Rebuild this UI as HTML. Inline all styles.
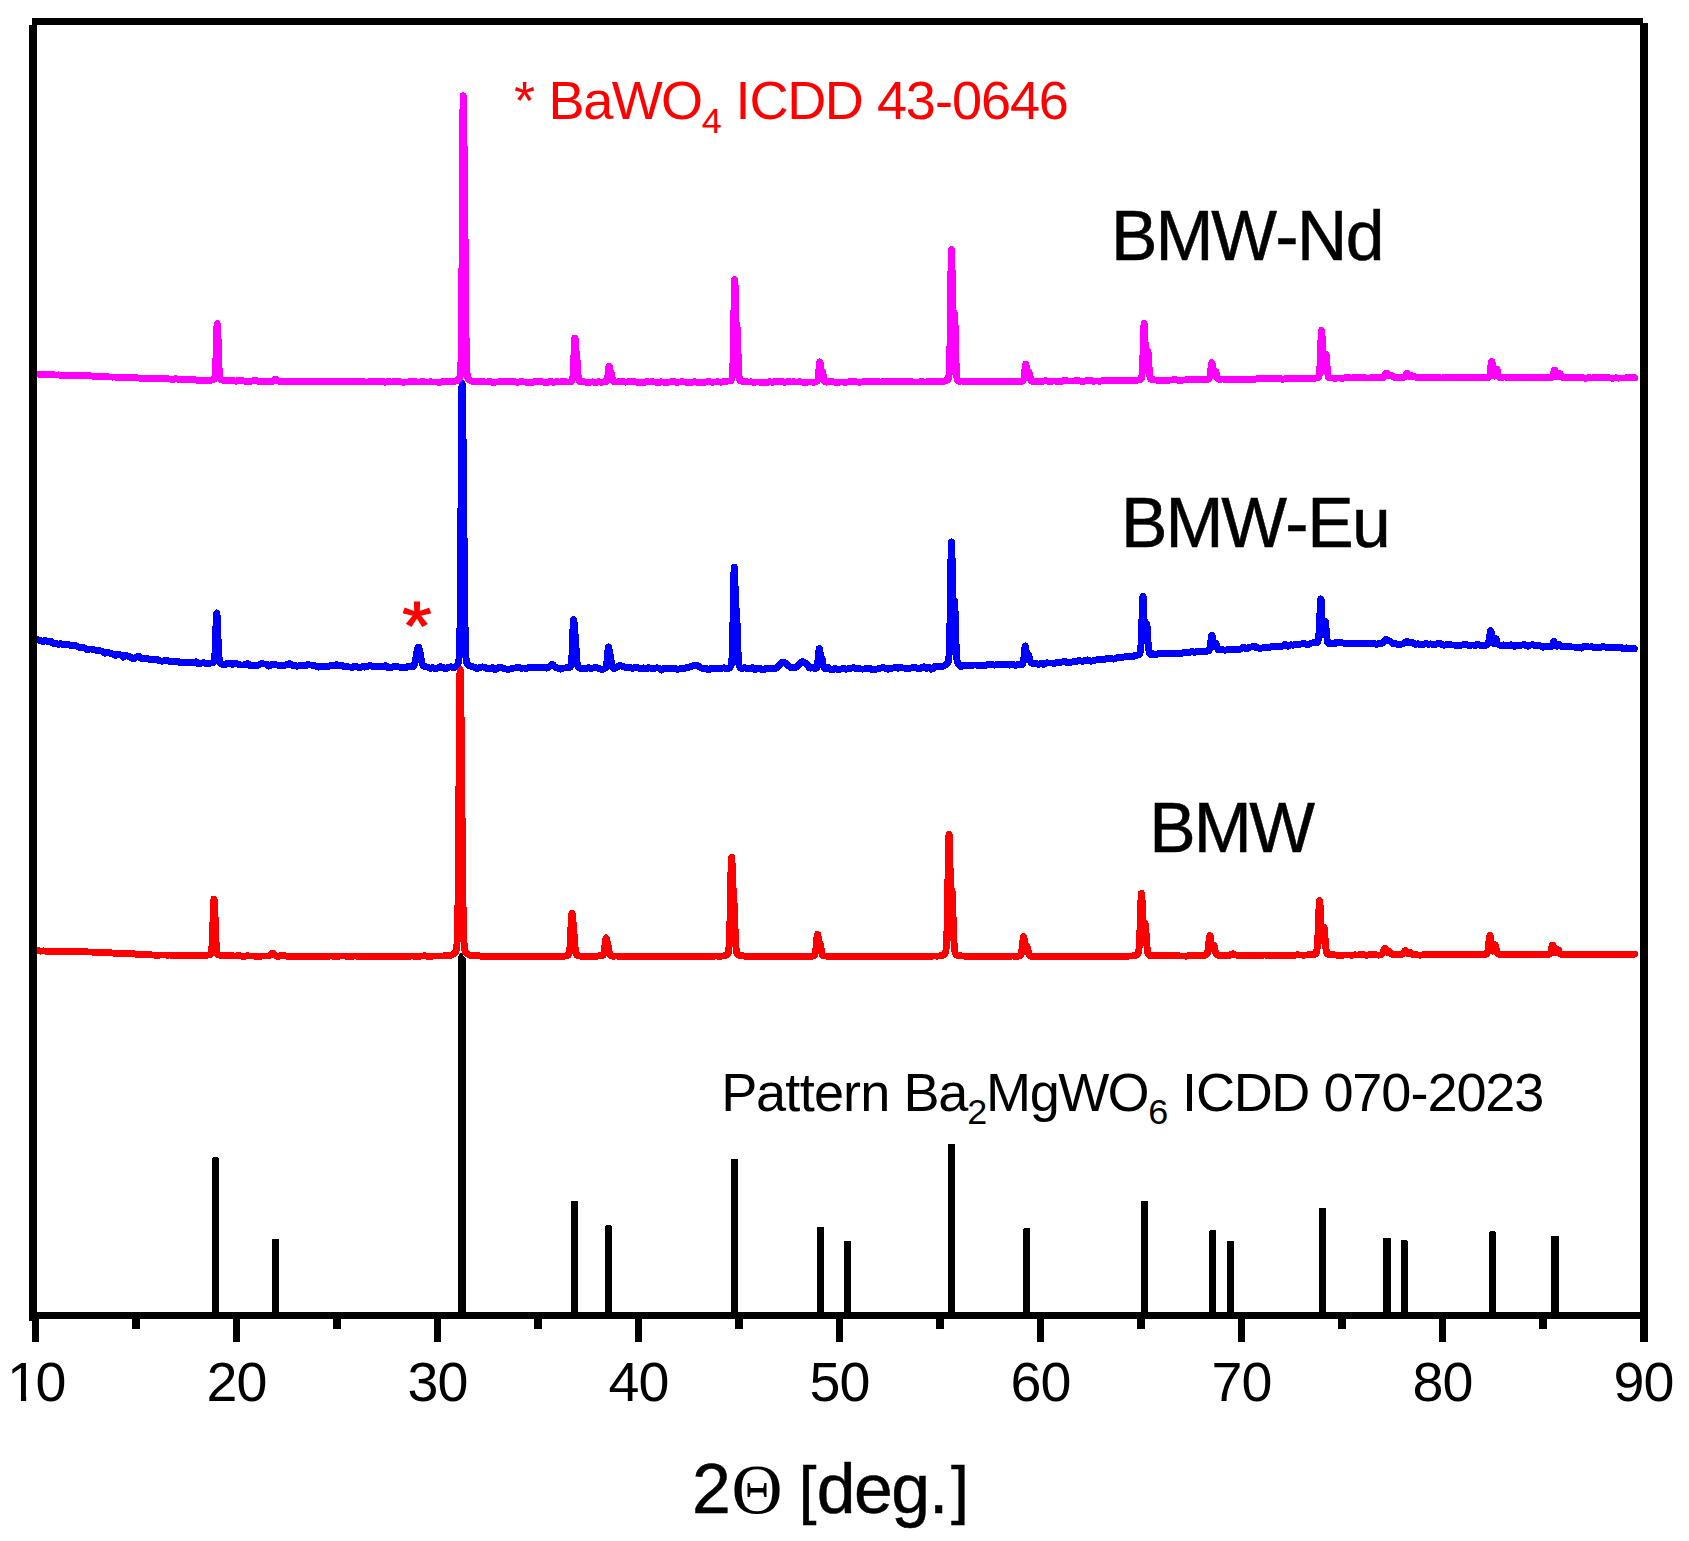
<!DOCTYPE html>
<html lang="en"><head><meta charset="utf-8"><title>XRD patterns</title>
<style>html,body{margin:0;padding:0;background:#fff}svg{display:block}</style>
</head><body>
<svg width="1689" height="1541" viewBox="0 0 1689 1541" shape-rendering="crispEdges">
<rect width="1689" height="1541" fill="#fff"/>
<g fill="#000">
<path d="M211.8,1314 V1158.8 Q211.8,1157.3 213.3,1157.3 H217.5 Q219.0,1157.3 219.0,1158.8 V1314 Z"/>
<path d="M272.1,1314 V1240.6 Q272.1,1239.1 273.6,1239.1 H277.7 Q279.2,1239.1 279.2,1240.6 V1314 Z"/>
<path d="M458,1314 V956.6 L460.6,953 H461.6 L466,958.8 V1314 Z"/>
<path d="M570.9,1314 V1202.6 Q570.9,1201.1 572.4,1201.1 H576.4 Q577.9,1201.1 577.9,1202.6 V1314 Z"/>
<path d="M604.9,1314 V1226.9 Q604.9,1225.4 606.4,1225.4 H610.4 Q611.9,1225.4 611.9,1226.9 V1314 Z"/>
<path d="M731.1,1314 V1160.6 Q731.1,1159.1 732.6,1159.1 H736.6 Q738.1,1159.1 738.1,1160.6 V1314 Z"/>
<path d="M816.8,1314 V1228.1 Q816.8,1226.6 818.3,1226.6 H822.3 Q823.8,1226.6 823.8,1228.1 V1314 Z"/>
<path d="M843.8,1314 V1242.1 Q843.8,1240.6 845.3,1240.6 H849.3 Q850.8,1240.6 850.8,1242.1 V1314 Z"/>
<path d="M948.0,1314 V1145.6 Q948.0,1144.1 949.5,1144.1 H953.5 Q955.0,1144.1 955.0,1145.6 V1314 Z"/>
<path d="M1023.1,1314 V1229.7 Q1023.1,1228.2 1024.6,1228.2 H1028.6 Q1030.1,1228.2 1030.1,1229.7 V1314 Z"/>
<path d="M1141.0,1314 V1202.3 Q1141.0,1200.8 1142.5,1200.8 H1146.5 Q1148.0,1200.8 1148.0,1202.3 V1314 Z"/>
<path d="M1209.1,1314 V1231.7 Q1209.1,1230.2 1210.6,1230.2 H1214.6 Q1216.1,1230.2 1216.1,1231.7 V1314 Z"/>
<path d="M1227.0,1314 V1242.6 Q1227.0,1241.1 1228.5,1241.1 H1232.5 Q1234.0,1241.1 1234.0,1242.6 V1314 Z"/>
<path d="M1319.1,1314 V1209.3 Q1319.1,1207.8 1320.6,1207.8 H1324.6 Q1326.1,1207.8 1326.1,1209.3 V1314 Z"/>
<path d="M1382.9,1314 V1239.6 Q1382.9,1238.1 1384.4,1238.1 H1389.6 Q1391.1,1238.1 1391.1,1239.6 V1314 Z"/>
<path d="M1400.7,1314 V1241.6 Q1400.7,1240.1 1402.2,1240.1 H1406.2 Q1407.7,1240.1 1407.7,1241.6 V1314 Z"/>
<path d="M1489.0,1314 V1232.7 Q1489.0,1231.2 1490.5,1231.2 H1494.5 Q1496.0,1231.2 1496.0,1232.7 V1314 Z"/>
<path d="M1551.0,1314 V1237.6 Q1551.0,1236.1 1552.5,1236.1 H1557.7 Q1559.2,1236.1 1559.2,1237.6 V1314 Z"/>
</g>
<g fill="none" stroke-width="6.9" stroke-linejoin="round" stroke-linecap="round">
<path id="cr" stroke="#f00" d="M37.5,950.8 39.0,950.9 40.5,951.1 42.0,951.0 43.5,950.9 45.0,951.0 46.5,951.2 48.0,951.1 49.5,951.1 51.0,951.1 52.5,951.2 54.0,951.4 55.5,951.5 57.0,951.5 58.5,951.4 60.0,951.4 61.5,951.4 63.0,951.5 64.5,951.6 66.0,951.7 67.5,951.8 69.0,951.7 70.5,951.7 72.0,951.8 73.5,951.8 75.0,951.8 76.5,951.7 78.0,951.8 79.5,951.9 81.0,951.9 82.5,951.9 84.0,951.9 85.5,951.9 87.0,951.9 88.5,952.0 90.0,952.0 91.5,952.0 93.0,952.2 94.5,952.3 96.0,952.3 97.5,952.4 99.0,952.4 100.5,952.4 102.0,952.5 103.5,952.6 105.0,952.5 106.5,952.5 108.0,952.7 109.5,952.8 111.0,952.9 112.5,953.0 114.0,953.1 115.5,953.2 117.0,953.2 118.5,953.2 120.0,953.3 121.5,953.4 123.0,953.3 124.5,953.3 126.0,953.5 127.5,953.6 129.0,953.6 130.5,953.6 132.0,953.7 133.5,953.8 135.0,954.0 136.5,954.3 138.0,954.1 139.5,954.0 141.0,954.3 142.5,954.5 144.0,954.6 145.5,954.6 147.0,954.7 148.5,954.7 150.0,954.8 151.5,954.9 153.0,955.0 154.5,955.1 156.0,955.1 157.5,955.2 159.0,955.1 160.5,955.0 162.0,955.0 163.5,955.0 165.0,955.0 166.5,955.1 168.0,955.1 169.5,955.0 171.0,955.1 172.5,955.2 174.0,955.2 175.5,955.1 177.0,955.3 178.5,955.4 180.0,955.2 181.5,955.1 183.0,955.1 184.5,955.2 186.0,955.2 187.5,955.3 189.0,955.2 190.5,955.1 192.0,955.4 193.5,955.7 195.0,955.4 196.5,955.1 198.0,955.3 199.5,955.4 201.0,955.4 202.5,955.4 204.0,955.5 204.5,955.6 205.0,955.6 205.5,955.6 206.0,955.5 206.5,955.4 207.0,955.3 207.5,955.1 208.0,955.0 208.5,954.8 209.0,954.8 209.2,954.7 209.4,954.7 209.6,954.7 209.8,954.6 210.0,954.6 210.2,954.5 210.4,954.4 210.6,954.2 210.8,953.9 211.0,953.4 211.2,952.7 211.4,951.7 211.6,950.3 211.8,948.2 212.0,945.5 212.2,942.0 212.4,937.7 212.6,932.6 212.8,926.8 213.0,920.7 213.2,914.5 213.4,908.7 213.6,904.0 213.8,900.7 214.0,899.1 214.2,899.4 214.4,901.5 214.6,904.9 214.8,909.5 215.0,914.9 215.2,920.7 215.4,926.5 215.6,932.0 215.8,936.9 216.0,941.1 216.2,944.5 216.4,947.3 216.6,949.4 216.8,951.0 217.0,952.2 217.2,953.0 217.4,953.6 217.6,954.0 217.8,954.3 218.0,954.5 218.2,954.6 218.4,954.8 218.6,954.8 218.8,954.9 219.0,955.0 219.2,955.0 219.4,955.1 219.6,955.1 219.8,955.1 220.0,955.2 220.2,955.2 220.4,955.2 220.6,955.3 220.8,955.3 221.0,955.3 221.5,955.4 222.0,955.5 222.5,955.6 223.0,955.6 223.5,955.7 224.0,955.7 224.5,955.6 225.0,955.6 225.5,955.6 226.0,955.5 226.5,955.5 227.0,955.6 228.5,955.7 230.0,955.8 231.5,955.8 233.0,955.9 234.5,956.0 236.0,956.0 237.5,955.7 239.0,955.6 240.5,956.0 242.0,956.1 243.5,956.1 245.0,956.1 246.5,955.9 248.0,955.9 249.5,956.0 251.0,956.0 252.5,956.0 254.0,956.0 255.5,956.2 257.0,956.3 258.5,956.1 260.0,956.1 261.5,956.1 263.0,956.0 263.5,956.0 264.0,956.0 264.5,956.0 265.0,956.0 265.5,956.0 266.0,956.0 266.5,956.0 267.0,956.0 267.5,956.0 268.0,956.0 268.2,956.0 268.4,955.9 268.6,955.9 268.8,955.9 269.0,955.8 269.2,955.8 269.4,955.7 269.6,955.6 269.8,955.5 270.0,955.4 270.2,955.2 270.4,955.0 270.6,954.9 270.8,954.6 271.0,954.4 271.2,954.2 271.4,954.0 271.6,953.8 271.8,953.6 272.0,953.5 272.2,953.4 272.4,953.3 272.6,953.3 272.8,953.3 273.0,953.4 273.2,953.6 273.4,953.7 273.6,953.9 273.8,954.1 274.0,954.4 274.2,954.6 274.4,954.8 274.6,955.0 274.8,955.1 275.0,955.3 275.2,955.5 275.4,955.6 275.6,955.7 275.8,955.8 276.0,955.9 276.2,956.0 276.4,956.1 276.6,956.2 276.8,956.2 277.0,956.3 277.2,956.3 277.4,956.3 277.6,956.3 277.8,956.3 278.0,956.3 278.2,956.3 278.4,956.2 278.6,956.2 278.8,956.1 279.0,956.1 279.2,956.0 279.4,956.0 279.6,955.9 280.1,955.9 280.6,955.8 281.1,955.8 281.6,955.8 282.1,955.7 282.6,955.7 283.1,955.6 283.6,955.6 284.1,955.7 284.6,955.8 285.1,955.9 285.6,956.0 287.1,956.1 288.6,956.1 290.1,956.1 291.6,956.2 293.1,956.2 294.6,956.1 296.1,956.1 297.6,956.1 299.1,956.1 300.6,956.2 302.1,956.2 303.6,956.3 305.1,956.3 306.6,956.1 308.1,956.1 309.6,956.1 311.1,956.1 312.6,956.3 314.1,956.4 315.6,956.3 317.1,956.2 318.6,956.1 320.1,956.1 321.6,956.4 323.1,956.4 324.6,956.3 326.1,956.3 327.6,956.1 329.1,956.1 330.6,956.0 332.1,956.0 333.6,956.2 335.1,956.2 336.6,956.1 338.1,956.1 339.6,956.1 341.1,956.0 342.6,956.0 344.1,956.0 345.6,956.1 347.1,956.1 348.6,956.3 350.1,956.3 351.6,956.2 353.1,956.1 354.6,956.0 356.1,956.0 357.6,956.2 359.1,956.3 360.6,956.2 362.1,956.2 363.6,956.3 365.1,956.3 366.6,956.4 368.1,956.4 369.6,956.2 371.1,956.2 372.6,956.2 374.1,956.2 375.6,956.2 377.1,956.2 378.6,956.1 380.1,956.1 381.6,956.2 383.1,956.3 384.6,956.4 386.1,956.4 387.6,956.3 389.1,956.2 390.6,956.2 392.1,956.2 393.6,956.2 395.1,956.2 396.6,956.1 398.1,956.1 399.6,956.1 401.1,956.1 402.6,956.2 404.1,956.2 405.6,956.1 407.1,956.1 408.6,956.1 410.1,956.1 411.6,956.0 413.1,956.0 414.6,956.2 416.1,956.3 417.6,956.2 419.1,956.2 420.6,956.1 422.1,956.0 423.6,955.9 425.1,955.9 426.6,956.1 428.1,956.2 429.6,956.3 431.1,956.3 432.6,956.1 434.1,956.0 435.6,956.0 437.1,956.0 438.6,956.0 440.1,956.0 441.6,956.0 443.1,956.0 444.6,955.8 446.1,955.7 447.6,955.7 449.1,955.6 449.6,955.5 450.1,955.3 450.6,955.2 451.1,955.0 451.6,954.9 452.1,954.7 452.6,954.5 453.1,954.3 453.6,954.1 454.1,953.7 454.6,953.2 455.1,952.6 455.3,952.3 455.5,951.9 455.7,951.5 455.9,951.0 456.1,950.4 456.3,949.6 456.5,948.5 456.7,947.0 456.9,944.9 457.1,941.7 457.3,937.2 457.5,930.9 457.7,922.1 457.9,910.2 458.1,894.8 458.3,875.6 458.5,852.5 458.7,826.1 458.9,797.0 459.1,766.9 459.3,737.5 459.5,711.0 459.7,689.8 459.9,675.7 460.1,669.4 460.3,670.6 460.5,677.8 460.7,689.4 460.9,703.9 461.1,720.5 461.3,738.8 461.5,758.6 461.7,779.7 461.9,801.5 462.1,823.5 462.3,844.6 462.5,864.3 462.7,882.0 462.9,897.4 463.1,910.3 463.3,920.9 463.5,929.2 463.7,935.6 463.9,940.4 464.1,943.8 464.3,946.3 464.5,948.1 464.7,949.3 464.9,950.2 465.1,950.9 465.3,951.4 465.5,951.9 465.7,952.2 465.9,952.5 466.1,952.8 466.3,953.0 466.5,953.3 466.7,953.4 466.9,953.6 467.1,953.8 467.6,954.1 468.1,954.4 468.6,954.6 469.1,954.8 469.6,955.0 470.1,955.1 470.6,955.3 471.1,955.4 471.6,955.5 472.1,955.6 472.6,955.7 473.1,955.7 474.6,955.8 476.1,955.9 477.6,955.9 479.1,955.9 480.6,956.1 482.1,956.1 483.6,956.2 485.1,956.2 486.6,956.2 488.1,956.1 489.6,956.1 491.1,956.1 492.6,956.1 494.1,956.2 495.6,956.3 497.1,956.3 498.6,956.3 500.1,956.3 501.6,956.2 503.1,956.1 504.6,956.3 506.1,956.3 507.6,956.2 509.1,956.2 510.6,956.2 512.1,956.2 513.6,956.4 515.1,956.4 516.6,956.4 518.1,956.4 519.6,956.2 521.1,956.2 522.6,956.3 524.1,956.3 525.6,956.3 527.1,956.3 528.6,956.2 530.1,956.2 531.6,956.2 533.1,956.3 534.6,956.3 536.1,956.3 537.6,956.1 539.1,956.1 540.6,956.3 542.1,956.3 543.6,956.4 545.1,956.4 546.6,956.4 548.1,956.3 549.6,956.2 551.1,956.1 552.6,956.3 554.1,956.3 555.6,956.2 557.1,956.1 558.6,956.3 560.1,956.3 561.6,956.2 562.1,956.2 562.6,956.2 563.1,956.2 563.6,956.1 564.1,956.1 564.6,956.1 565.1,956.0 565.6,956.0 566.1,955.9 566.6,955.8 567.1,955.6 567.3,955.6 567.5,955.5 567.7,955.4 567.9,955.3 568.1,955.2 568.3,955.0 568.5,954.8 568.7,954.5 568.9,954.1 569.1,953.5 569.3,952.6 569.5,951.4 569.7,949.7 569.9,947.5 570.1,944.8 570.3,941.5 570.5,937.6 570.7,933.3 570.9,928.8 571.1,924.4 571.3,920.2 571.5,916.8 571.7,914.4 571.9,913.2 572.1,913.2 572.3,914.2 572.5,915.8 572.7,917.8 572.9,920.0 573.1,922.2 573.3,924.3 573.5,926.5 573.7,928.9 573.9,931.4 574.1,934.1 574.3,937.0 574.5,939.8 574.7,942.5 574.9,945.0 575.1,947.2 575.3,949.2 575.5,950.8 575.7,952.0 575.9,953.0 576.1,953.8 576.3,954.3 576.5,954.7 576.7,955.0 576.9,955.1 577.1,955.3 577.3,955.4 577.5,955.5 577.7,955.5 577.9,955.6 578.1,955.6 578.3,955.7 578.5,955.7 578.7,955.8 578.9,955.8 579.4,955.9 579.9,956.0 580.4,956.1 580.9,956.1 581.4,956.2 581.9,956.2 582.4,956.2 582.9,956.2 583.4,956.2 583.9,956.2 584.4,956.2 584.9,956.2 586.4,956.2 587.9,956.3 589.4,956.5 590.9,956.4 592.4,956.2 593.9,956.4 595.4,956.5 595.9,956.5 596.4,956.4 596.9,956.2 597.4,956.1 597.9,956.0 598.4,955.9 598.9,955.9 599.4,955.9 599.9,955.8 600.4,955.8 600.9,955.8 601.1,955.7 601.3,955.7 601.5,955.7 601.7,955.7 601.9,955.7 602.1,955.6 602.3,955.6 602.5,955.6 602.7,955.5 602.9,955.4 603.1,955.2 603.3,954.9 603.5,954.5 603.7,953.9 603.9,953.1 604.1,952.1 604.3,950.8 604.5,949.2 604.7,947.5 604.9,945.6 605.1,943.6 605.3,941.8 605.5,940.2 605.7,939.0 605.9,938.3 606.1,938.0 606.3,938.3 606.5,938.9 606.7,939.7 606.9,940.6 607.1,941.5 607.3,942.4 607.5,943.2 607.7,944.1 607.9,945.0 608.1,945.9 608.3,947.0 608.5,948.1 608.7,949.3 608.9,950.4 609.1,951.5 609.3,952.4 609.5,953.2 609.7,953.9 609.9,954.4 610.1,954.9 610.3,955.2 610.5,955.4 610.7,955.6 610.9,955.7 611.1,955.8 611.3,955.9 611.5,955.9 611.7,956.0 611.9,956.0 612.1,956.0 612.3,956.1 612.5,956.1 612.7,956.1 612.9,956.1 613.4,956.1 613.9,956.1 614.4,956.1 614.9,956.1 615.4,956.0 615.9,956.0 616.4,956.0 616.9,956.0 617.4,956.0 617.9,956.1 618.4,956.1 618.9,956.2 620.4,956.2 621.9,956.2 623.4,956.2 624.9,956.3 626.4,956.3 627.9,956.4 629.4,956.4 630.9,956.3 632.4,956.3 633.9,956.4 635.4,956.3 636.9,956.2 638.4,956.2 639.9,956.3 641.4,956.3 642.9,956.3 644.4,956.3 645.9,956.3 647.4,956.3 648.9,956.5 650.4,956.4 651.9,956.2 653.4,956.3 654.9,956.5 656.4,956.5 657.9,956.2 659.4,956.3 660.9,956.4 662.4,956.4 663.9,956.2 665.4,956.3 666.9,956.5 668.4,956.5 669.9,956.4 671.4,956.3 672.9,956.4 674.4,956.4 675.9,956.4 677.4,956.4 678.9,956.3 680.4,956.2 681.9,956.2 683.4,956.2 684.9,956.1 686.4,956.1 687.9,956.4 689.4,956.4 690.9,956.2 692.4,956.2 693.9,956.2 695.4,956.2 696.9,956.3 698.4,956.4 699.9,956.5 701.4,956.4 702.9,956.1 704.4,956.1 705.9,956.3 707.4,956.3 708.9,956.2 710.4,956.2 711.9,956.3 713.4,956.2 714.9,956.0 716.4,956.0 717.9,956.1 719.4,956.1 720.9,956.1 721.4,956.1 721.9,956.0 722.4,956.0 722.9,956.0 723.4,955.9 723.9,955.9 724.4,955.8 724.9,955.7 725.4,955.6 725.9,955.4 726.4,955.2 726.9,954.9 727.1,954.8 727.3,954.6 727.5,954.4 727.7,954.2 727.9,953.8 728.1,953.3 728.3,952.6 728.5,951.7 728.7,950.3 728.9,948.3 729.1,945.6 729.3,941.9 729.5,937.1 729.7,931.0 729.9,923.6 730.1,915.0 730.3,905.3 730.5,895.0 730.7,884.6 730.9,874.9 731.1,866.7 731.3,860.7 731.5,857.5 731.7,857.3 731.9,859.8 732.1,864.2 732.3,869.6 732.5,875.2 732.7,880.4 732.9,884.8 733.1,888.4 733.3,891.3 733.5,893.8 733.7,896.4 733.9,899.6 734.1,903.6 734.3,908.3 734.5,913.7 734.7,919.3 734.9,925.0 735.1,930.4 735.3,935.4 735.5,939.7 735.7,943.4 735.9,946.3 736.1,948.7 736.3,950.4 736.5,951.7 736.7,952.7 736.9,953.3 737.1,953.8 737.3,954.1 737.5,954.4 737.7,954.6 737.9,954.7 738.1,954.8 738.3,954.9 738.5,955.0 739.0,955.1 739.5,955.3 740.0,955.4 740.5,955.5 741.0,955.6 741.5,955.6 742.0,955.7 742.5,955.7 743.0,955.8 743.5,955.9 744.0,956.0 744.5,956.1 746.0,956.2 747.5,956.2 749.0,956.2 750.5,956.2 752.0,956.2 753.5,956.4 755.0,956.4 756.5,956.2 758.0,956.2 759.5,956.3 761.0,956.4 762.5,956.3 764.0,956.3 765.5,956.3 767.0,956.3 768.5,956.4 770.0,956.4 771.5,956.3 773.0,956.3 774.5,956.4 776.0,956.4 777.5,956.4 779.0,956.4 780.5,956.5 782.0,956.6 783.5,956.4 785.0,956.3 786.5,956.4 788.0,956.5 789.5,956.4 791.0,956.4 792.5,956.3 794.0,956.3 795.5,956.4 797.0,956.4 798.5,956.3 800.0,956.2 801.5,956.4 803.0,956.4 804.5,956.3 806.0,956.2 807.5,956.2 808.0,956.2 808.5,956.2 809.0,956.2 809.5,956.2 810.0,956.2 810.5,956.2 811.0,956.2 811.5,956.2 812.0,956.1 812.5,956.1 812.7,956.1 812.9,956.1 813.1,956.0 813.3,956.0 813.5,956.0 813.7,955.9 813.9,955.8 814.1,955.7 814.3,955.6 814.5,955.3 814.7,955.0 814.9,954.6 815.1,953.9 815.3,953.1 815.5,952.0 815.7,950.6 815.9,948.9 816.1,946.9 816.3,944.7 816.5,942.4 816.7,940.1 816.9,938.0 817.1,936.2 817.3,934.9 817.5,934.3 817.7,934.4 817.9,935.1 818.1,936.2 818.3,937.6 818.5,939.0 818.7,940.3 818.9,941.4 819.1,942.2 819.3,942.7 819.5,943.1 819.7,943.3 819.9,943.6 820.1,944.0 820.3,944.7 820.5,945.6 820.7,946.6 820.9,947.8 821.1,949.0 821.3,950.2 821.5,951.4 821.7,952.4 821.9,953.2 822.1,953.9 822.3,954.5 822.5,954.9 822.7,955.2 822.9,955.4 823.1,955.6 823.3,955.7 823.5,955.8 823.7,955.9 823.9,955.9 824.1,956.0 824.3,956.0 824.5,956.0 825.0,956.0 825.5,956.0 826.0,956.1 826.5,956.1 827.0,956.1 827.5,956.2 828.0,956.2 828.5,956.3 829.0,956.3 829.5,956.3 830.0,956.3 830.5,956.3 832.0,956.3 833.5,956.3 835.0,956.2 836.5,956.3 838.0,956.4 839.5,956.4 841.0,956.4 842.5,956.3 844.0,956.2 845.5,956.3 847.0,956.4 848.5,956.3 850.0,956.2 851.5,956.2 853.0,956.2 854.5,956.3 856.0,956.4 857.5,956.3 859.0,956.2 860.5,956.2 862.0,956.3 863.5,956.3 865.0,956.2 866.5,956.3 868.0,956.4 869.5,956.4 871.0,956.3 872.5,956.3 874.0,956.4 875.5,956.3 877.0,956.2 878.5,956.2 880.0,956.3 881.5,956.3 883.0,956.5 884.5,956.5 886.0,956.4 887.5,956.3 889.0,956.1 890.5,956.2 892.0,956.4 893.5,956.5 895.0,956.5 896.5,956.4 898.0,956.3 899.5,956.4 901.0,956.5 902.5,956.4 904.0,956.2 905.5,956.2 907.0,956.3 908.5,956.4 910.0,956.5 911.5,956.5 913.0,956.5 914.5,956.5 916.0,956.5 917.5,956.4 919.0,956.2 920.5,956.1 922.0,956.1 923.5,956.1 925.0,956.3 926.5,956.3 928.0,956.1 929.5,956.1 931.0,956.2 932.5,956.1 934.0,956.0 935.5,956.0 937.0,956.1 938.5,956.0 939.0,956.0 939.5,955.9 940.0,955.9 940.5,955.8 941.0,955.7 941.5,955.6 942.0,955.5 942.5,955.3 943.0,955.1 943.5,954.9 944.0,954.6 944.2,954.5 944.4,954.3 944.6,954.1 944.8,953.9 945.0,953.6 945.2,953.2 945.4,952.7 945.6,952.1 945.8,951.1 946.0,949.7 946.2,947.8 946.4,945.1 946.6,941.4 946.8,936.5 947.0,930.2 947.2,922.2 947.4,912.8 947.6,901.8 947.8,889.7 948.0,877.0 948.2,864.4 948.4,852.9 948.6,843.4 948.8,836.9 949.0,834.2 949.2,835.3 949.4,840.0 949.6,847.4 949.8,856.3 950.0,865.6 950.2,874.2 950.4,881.5 950.6,887.0 950.8,890.4 951.0,892.0 951.2,892.1 951.4,891.2 951.6,890.3 951.8,889.8 952.0,890.6 952.2,893.0 952.4,896.8 952.6,902.0 952.8,908.1 953.0,914.7 953.2,921.2 953.4,927.4 953.6,933.1 953.8,938.0 954.0,942.0 954.2,945.3 954.4,947.9 954.6,949.8 954.8,951.2 955.0,952.3 955.2,953.0 955.4,953.5 955.6,953.9 955.8,954.2 956.0,954.4 956.5,954.8 957.0,955.0 957.5,955.2 958.0,955.4 958.5,955.5 959.0,955.6 959.5,955.7 960.0,955.8 960.5,955.9 961.0,955.9 961.5,956.0 962.0,956.0 963.5,956.0 965.0,956.1 966.5,956.3 968.0,956.4 969.5,956.3 971.0,956.3 972.5,956.4 974.0,956.5 975.5,956.5 977.0,956.4 978.5,956.3 980.0,956.2 981.5,956.1 983.0,956.1 984.5,956.4 986.0,956.5 987.5,956.3 989.0,956.3 990.5,956.3 992.0,956.3 993.5,956.3 995.0,956.3 996.5,956.3 998.0,956.3 999.5,956.2 1001.0,956.2 1002.5,956.3 1004.0,956.3 1005.5,956.3 1007.0,956.3 1008.5,956.3 1010.0,956.3 1011.5,956.1 1013.0,956.0 1013.5,956.1 1014.0,956.2 1014.5,956.3 1015.0,956.3 1015.5,956.4 1016.0,956.3 1016.5,956.3 1017.0,956.3 1017.5,956.2 1018.0,956.2 1018.5,956.1 1019.0,956.1 1019.2,956.0 1019.4,956.0 1019.6,955.9 1019.8,955.8 1020.0,955.7 1020.2,955.5 1020.4,955.4 1020.6,955.1 1020.8,954.8 1021.0,954.3 1021.2,953.7 1021.4,952.9 1021.6,951.8 1021.8,950.6 1022.0,949.0 1022.2,947.3 1022.4,945.4 1022.6,943.4 1022.8,941.4 1023.0,939.6 1023.2,938.1 1023.4,937.1 1023.6,936.7 1023.8,937.0 1024.0,937.8 1024.2,939.0 1024.4,940.5 1024.6,942.1 1024.8,943.7 1025.0,945.0 1025.2,946.0 1025.4,946.7 1025.6,947.0 1025.8,947.1 1026.0,946.9 1026.2,946.6 1026.4,946.2 1026.6,946.0 1026.8,946.0 1027.0,946.3 1027.2,946.8 1027.4,947.5 1027.6,948.5 1027.8,949.5 1028.0,950.5 1028.2,951.5 1028.4,952.4 1028.6,953.3 1028.8,954.0 1029.0,954.5 1029.2,955.0 1029.4,955.3 1029.6,955.6 1029.8,955.8 1030.0,955.9 1030.2,956.0 1030.4,956.1 1030.6,956.1 1031.1,956.2 1031.6,956.2 1032.1,956.2 1032.6,956.2 1033.1,956.2 1033.6,956.3 1034.1,956.3 1034.6,956.3 1035.1,956.4 1035.6,956.4 1036.1,956.5 1036.6,956.5 1038.1,956.4 1039.6,956.3 1041.1,956.3 1042.6,956.2 1044.1,956.3 1045.6,956.3 1047.1,956.4 1048.6,956.5 1050.1,956.4 1051.6,956.3 1053.1,956.4 1054.6,956.5 1056.1,956.5 1057.6,956.5 1059.1,956.5 1060.6,956.5 1062.1,956.5 1063.6,956.5 1065.1,956.4 1066.6,956.4 1068.1,956.4 1069.6,956.4 1071.1,956.3 1072.6,956.3 1074.1,956.3 1075.6,956.3 1077.1,956.2 1078.6,956.2 1080.1,956.3 1081.6,956.3 1083.1,956.3 1084.6,956.2 1086.1,956.2 1087.6,956.2 1089.1,956.3 1090.6,956.4 1092.1,956.4 1093.6,956.4 1095.1,956.4 1096.6,956.3 1098.1,956.5 1099.6,956.6 1101.1,956.5 1102.6,956.5 1104.1,956.5 1105.6,956.5 1107.1,956.3 1108.6,956.2 1110.1,956.2 1111.6,956.1 1113.1,956.2 1114.6,956.3 1116.1,956.3 1117.6,956.3 1119.1,956.3 1120.6,956.3 1122.1,956.2 1123.6,956.2 1125.1,956.2 1126.6,956.2 1128.1,956.1 1129.6,956.0 1131.1,956.0 1131.6,956.0 1132.1,955.9 1132.6,955.9 1133.1,955.9 1133.6,955.8 1134.1,955.7 1134.6,955.5 1135.1,955.4 1135.6,955.3 1136.1,955.2 1136.6,955.0 1136.8,954.9 1137.0,954.8 1137.2,954.6 1137.4,954.5 1137.6,954.3 1137.8,954.0 1138.0,953.7 1138.2,953.2 1138.4,952.5 1138.6,951.6 1138.8,950.3 1139.0,948.6 1139.2,946.2 1139.4,943.2 1139.6,939.4 1139.8,934.9 1140.0,929.6 1140.2,923.6 1140.4,917.3 1140.6,910.9 1140.8,904.8 1141.0,899.5 1141.2,895.6 1141.4,893.4 1141.6,893.3 1141.8,895.1 1142.0,898.7 1142.2,903.5 1142.4,909.0 1142.6,914.6 1142.8,919.8 1143.0,924.4 1143.2,927.9 1143.4,930.3 1143.6,931.5 1143.8,931.7 1144.0,930.9 1144.2,929.4 1144.4,927.6 1144.6,925.8 1144.8,924.3 1145.0,923.5 1145.2,923.6 1145.4,924.6 1145.6,926.4 1145.8,929.0 1146.0,932.0 1146.2,935.2 1146.4,938.5 1146.6,941.5 1146.8,944.3 1147.0,946.7 1147.2,948.7 1147.4,950.3 1147.6,951.5 1147.8,952.5 1148.0,953.3 1148.2,953.8 1148.4,954.2 1148.6,954.5 1149.1,955.0 1149.6,955.3 1150.1,955.5 1150.6,955.6 1151.1,955.6 1151.6,955.6 1152.1,955.6 1152.6,955.6 1153.1,955.6 1153.6,955.6 1154.1,955.7 1154.6,955.7 1156.1,955.8 1157.6,955.8 1159.1,955.9 1160.6,955.9 1162.1,955.9 1163.6,955.8 1165.1,955.7 1166.6,955.8 1168.1,955.9 1169.6,955.9 1171.1,955.9 1172.6,955.9 1174.1,955.9 1175.6,955.9 1177.1,955.7 1178.6,955.8 1180.1,956.0 1181.6,956.0 1183.1,956.0 1184.6,956.0 1186.1,956.1 1187.6,955.9 1189.1,955.6 1190.6,955.6 1192.1,955.7 1193.6,955.6 1195.1,955.4 1196.6,955.5 1198.1,955.7 1199.6,955.7 1200.1,955.7 1200.6,955.6 1201.1,955.6 1201.6,955.6 1202.1,955.6 1202.6,955.5 1203.1,955.4 1203.6,955.4 1204.1,955.3 1204.6,955.2 1205.1,955.2 1205.3,955.1 1205.5,955.1 1205.7,955.0 1205.9,955.0 1206.1,954.9 1206.3,954.8 1206.5,954.7 1206.7,954.5 1206.9,954.2 1207.1,953.9 1207.3,953.4 1207.5,952.7 1207.7,951.8 1207.9,950.7 1208.1,949.4 1208.3,947.9 1208.5,946.1 1208.7,944.1 1208.9,942.1 1209.1,940.1 1209.3,938.4 1209.5,936.9 1209.7,936.0 1209.9,935.6 1210.1,935.9 1210.3,936.8 1210.5,938.2 1210.7,939.9 1210.9,941.7 1211.1,943.5 1211.3,945.2 1211.5,946.6 1211.7,947.7 1211.9,948.4 1212.1,948.8 1212.3,948.8 1212.5,948.5 1212.7,948.0 1212.9,947.3 1213.1,946.6 1213.3,946.0 1213.5,945.6 1213.7,945.3 1213.9,945.4 1214.1,945.8 1214.3,946.4 1214.5,947.3 1214.7,948.2 1214.9,949.2 1215.1,950.2 1215.3,951.2 1215.5,952.0 1215.7,952.7 1215.9,953.3 1216.1,953.8 1216.3,954.2 1216.5,954.5 1216.7,954.7 1216.9,954.8 1217.4,955.1 1217.9,955.2 1218.4,955.2 1218.9,955.3 1219.4,955.3 1219.9,955.3 1220.4,955.3 1220.9,955.2 1221.4,955.2 1221.9,955.1 1222.4,955.1 1222.9,955.1 1223.4,955.2 1223.9,955.2 1224.4,955.3 1224.9,955.3 1225.4,955.3 1225.9,955.3 1226.4,955.4 1226.9,955.4 1227.4,955.4 1227.9,955.4 1228.4,955.4 1228.6,955.4 1228.8,955.3 1229.0,955.3 1229.2,955.3 1229.4,955.2 1229.6,955.2 1229.8,955.1 1230.0,955.1 1230.2,955.0 1230.4,954.9 1230.6,954.8 1230.8,954.7 1231.0,954.6 1231.2,954.5 1231.4,954.4 1231.6,954.3 1231.8,954.2 1232.0,954.1 1232.2,954.0 1232.4,953.9 1232.6,953.9 1232.8,953.8 1233.0,953.8 1233.2,953.9 1233.4,953.9 1233.6,954.0 1233.8,954.1 1234.0,954.2 1234.2,954.3 1234.4,954.4 1234.6,954.5 1234.8,954.7 1235.0,954.8 1235.2,954.8 1235.4,954.9 1235.6,955.0 1235.8,955.0 1236.0,955.1 1236.2,955.1 1236.4,955.1 1236.6,955.1 1236.8,955.1 1237.0,955.1 1237.2,955.1 1237.4,955.2 1237.6,955.2 1237.8,955.2 1238.0,955.2 1238.2,955.2 1238.4,955.2 1238.6,955.2 1238.8,955.2 1239.0,955.1 1239.2,955.1 1239.4,955.1 1239.6,955.1 1239.8,955.1 1240.0,955.1 1240.5,955.1 1241.0,955.1 1241.5,955.2 1242.0,955.2 1242.5,955.3 1243.0,955.4 1243.5,955.4 1244.0,955.4 1244.5,955.4 1245.0,955.3 1245.5,955.3 1246.0,955.3 1247.5,955.3 1249.0,955.4 1250.5,955.4 1252.0,955.4 1253.5,955.4 1255.0,955.4 1256.5,955.4 1258.0,955.4 1259.5,955.4 1261.0,955.4 1262.5,955.3 1264.0,955.0 1265.5,955.1 1267.0,955.2 1268.5,955.3 1270.0,955.4 1271.5,955.4 1273.0,955.1 1274.5,955.2 1276.0,955.3 1277.5,955.3 1279.0,955.2 1280.5,955.1 1282.0,955.1 1283.5,955.2 1285.0,955.3 1286.5,955.3 1288.0,955.3 1289.5,955.2 1291.0,955.1 1292.5,955.1 1294.0,955.2 1295.5,955.1 1297.0,954.9 1298.5,954.9 1300.0,955.0 1301.5,955.0 1303.0,955.1 1304.5,955.1 1306.0,955.0 1307.5,954.9 1309.0,954.8 1309.5,954.7 1310.0,954.7 1310.5,954.7 1311.0,954.7 1311.5,954.8 1312.0,954.7 1312.5,954.7 1313.0,954.6 1313.5,954.6 1314.0,954.4 1314.5,954.3 1315.0,954.1 1315.2,954.0 1315.4,953.9 1315.6,953.8 1315.8,953.6 1316.0,953.3 1316.2,952.9 1316.4,952.4 1316.6,951.7 1316.8,950.7 1317.0,949.3 1317.2,947.4 1317.4,945.0 1317.6,942.0 1317.8,938.3 1318.0,933.9 1318.2,929.0 1318.4,923.7 1318.6,918.2 1318.8,912.8 1319.0,908.0 1319.2,904.1 1319.4,901.5 1319.6,900.6 1319.8,901.4 1320.0,903.9 1320.2,907.6 1320.4,912.2 1320.6,917.4 1320.8,922.5 1321.0,927.4 1321.2,931.7 1321.4,935.2 1321.6,937.9 1321.8,939.5 1322.0,940.3 1322.2,940.1 1322.4,939.2 1322.6,937.6 1322.8,935.6 1323.0,933.4 1323.2,931.2 1323.4,929.2 1323.6,927.8 1323.8,927.0 1324.0,927.1 1324.2,928.1 1324.4,929.8 1324.6,932.0 1324.8,934.6 1325.0,937.4 1325.2,940.1 1325.4,942.7 1325.6,945.1 1325.8,947.1 1326.0,948.8 1326.2,950.2 1326.4,951.3 1326.6,952.1 1327.1,953.4 1327.6,953.9 1328.1,954.2 1328.6,954.4 1329.1,954.5 1329.6,954.5 1330.1,954.6 1330.6,954.7 1331.1,954.7 1331.6,954.7 1332.1,954.8 1332.6,954.8 1334.1,954.9 1335.6,955.0 1337.1,955.1 1338.6,955.1 1340.1,955.2 1341.6,955.1 1343.1,955.1 1344.6,955.0 1346.1,955.0 1347.6,955.0 1349.1,955.0 1350.6,955.1 1352.1,955.1 1353.6,955.0 1355.1,954.9 1356.6,955.0 1358.1,955.0 1359.6,954.8 1361.1,954.8 1362.6,954.9 1364.1,954.9 1365.6,955.1 1367.1,955.1 1368.6,954.9 1370.1,954.8 1371.6,954.7 1373.1,954.7 1374.6,954.8 1375.1,954.9 1375.6,954.9 1376.1,954.9 1376.6,954.9 1377.1,955.0 1377.6,955.0 1378.1,955.1 1378.6,955.1 1379.1,955.0 1379.6,955.0 1380.1,955.0 1380.3,954.9 1380.5,954.9 1380.7,954.9 1380.9,954.8 1381.1,954.8 1381.3,954.7 1381.5,954.6 1381.7,954.4 1381.9,954.2 1382.1,954.0 1382.3,953.7 1382.5,953.4 1382.7,952.9 1382.9,952.5 1383.1,952.0 1383.3,951.4 1383.5,950.8 1383.7,950.2 1383.9,949.7 1384.1,949.2 1384.3,948.8 1384.5,948.5 1384.7,948.3 1384.9,948.3 1385.1,948.4 1385.3,948.7 1385.5,949.1 1385.7,949.5 1385.9,950.0 1386.1,950.5 1386.3,951.0 1386.5,951.4 1386.7,951.8 1386.9,952.1 1387.1,952.3 1387.3,952.4 1387.5,952.5 1387.7,952.5 1387.9,952.4 1388.1,952.2 1388.3,952.1 1388.5,951.9 1388.7,951.7 1388.9,951.6 1389.1,951.5 1389.3,951.5 1389.5,951.5 1389.7,951.6 1389.9,951.8 1390.1,952.0 1390.3,952.3 1390.5,952.5 1390.7,952.8 1390.9,953.1 1391.1,953.4 1391.3,953.6 1391.5,953.8 1391.7,954.0 1391.9,954.1 1392.4,954.4 1392.9,954.5 1393.4,954.6 1393.9,954.7 1394.4,954.7 1394.9,954.7 1395.4,954.8 1395.9,954.8 1396.4,954.8 1396.9,954.8 1397.4,954.8 1397.9,954.8 1398.4,954.8 1398.9,954.8 1399.4,954.8 1399.9,954.8 1400.4,954.7 1400.6,954.7 1400.8,954.7 1401.0,954.6 1401.2,954.6 1401.4,954.6 1401.6,954.5 1401.8,954.5 1402.0,954.4 1402.2,954.3 1402.4,954.2 1402.6,954.1 1402.8,953.9 1403.0,953.7 1403.2,953.5 1403.4,953.3 1403.6,953.0 1403.8,952.7 1404.0,952.3 1404.2,952.0 1404.4,951.6 1404.6,951.3 1404.8,951.1 1405.0,950.8 1405.2,950.7 1405.4,950.7 1405.6,950.7 1405.8,950.8 1406.0,951.0 1406.2,951.3 1406.4,951.6 1406.6,951.9 1406.8,952.3 1407.0,952.6 1407.2,952.8 1407.4,953.0 1407.6,953.2 1407.8,953.3 1408.0,953.4 1408.2,953.4 1408.4,953.4 1408.6,953.3 1408.8,953.2 1409.0,953.1 1409.2,953.0 1409.4,952.8 1409.6,952.7 1409.8,952.7 1410.0,952.6 1410.2,952.7 1410.4,952.7 1410.6,952.8 1410.8,953.0 1411.0,953.1 1411.2,953.3 1411.4,953.5 1411.6,953.6 1411.8,953.8 1412.0,954.0 1412.2,954.1 1412.4,954.2 1412.9,954.4 1413.4,954.5 1413.9,954.6 1414.4,954.6 1414.9,954.7 1415.4,954.7 1415.9,954.8 1416.4,954.8 1416.9,954.9 1417.4,954.9 1417.9,954.9 1418.4,955.0 1419.9,955.1 1421.4,955.0 1422.9,954.8 1424.4,954.8 1425.9,954.8 1427.4,954.8 1428.9,954.9 1430.4,954.9 1431.9,954.8 1433.4,954.8 1434.9,954.7 1436.4,954.8 1437.9,954.9 1439.4,954.9 1440.9,954.7 1442.4,954.7 1443.9,954.7 1445.4,954.7 1446.9,954.7 1448.4,954.7 1449.9,954.7 1451.4,954.7 1452.9,954.7 1454.4,954.7 1455.9,954.8 1457.4,954.8 1458.9,954.9 1460.4,954.9 1461.9,954.8 1463.4,954.8 1464.9,954.7 1466.4,954.7 1467.9,954.6 1469.4,954.6 1470.9,954.7 1472.4,954.7 1473.9,954.6 1475.4,954.6 1476.9,954.6 1478.4,954.7 1479.9,954.7 1480.4,954.7 1480.9,954.7 1481.4,954.7 1481.9,954.6 1482.4,954.6 1482.9,954.6 1483.4,954.5 1483.9,954.5 1484.4,954.4 1484.9,954.4 1485.4,954.3 1485.6,954.3 1485.8,954.2 1486.0,954.2 1486.2,954.1 1486.4,954.0 1486.6,953.8 1486.8,953.6 1487.0,953.3 1487.2,952.9 1487.4,952.4 1487.6,951.7 1487.8,950.8 1488.0,949.7 1488.2,948.3 1488.4,946.8 1488.6,945.0 1488.8,943.1 1489.0,941.2 1489.2,939.4 1489.4,937.7 1489.6,936.3 1489.8,935.5 1490.0,935.2 1490.2,935.5 1490.4,936.3 1490.6,937.6 1490.8,939.3 1491.0,941.1 1491.2,943.0 1491.4,944.8 1491.6,946.5 1491.8,948.0 1492.0,949.2 1492.2,950.1 1492.4,950.7 1492.6,951.1 1492.8,951.1 1493.0,951.0 1493.2,950.6 1493.4,950.0 1493.6,949.3 1493.8,948.5 1494.0,947.6 1494.2,946.7 1494.4,945.9 1494.6,945.3 1494.8,944.9 1495.0,944.8 1495.2,944.9 1495.4,945.4 1495.6,946.0 1495.8,946.9 1496.0,947.8 1496.2,948.8 1496.4,949.7 1496.6,950.6 1496.8,951.4 1497.0,952.0 1497.5,953.2 1498.0,953.8 1498.5,954.1 1499.0,954.2 1499.5,954.3 1500.0,954.3 1500.5,954.4 1501.0,954.4 1501.5,954.4 1502.0,954.5 1502.5,954.5 1503.0,954.6 1504.5,954.7 1506.0,954.5 1507.5,954.4 1509.0,954.4 1510.5,954.5 1512.0,954.5 1513.5,954.4 1515.0,954.6 1516.5,954.8 1518.0,954.7 1519.5,954.7 1521.0,954.7 1522.5,954.6 1524.0,954.6 1525.5,954.6 1527.0,954.6 1528.5,954.6 1530.0,954.6 1531.5,954.6 1533.0,954.5 1534.5,954.3 1536.0,954.5 1537.5,954.6 1539.0,954.6 1540.5,954.6 1542.0,954.4 1542.5,954.4 1543.0,954.3 1543.5,954.3 1544.0,954.3 1544.5,954.4 1545.0,954.4 1545.5,954.5 1546.0,954.5 1546.5,954.5 1547.0,954.5 1547.5,954.5 1548.0,954.5 1548.2,954.4 1548.4,954.4 1548.6,954.4 1548.8,954.4 1549.0,954.3 1549.2,954.2 1549.4,954.2 1549.6,954.0 1549.8,953.9 1550.0,953.6 1550.2,953.3 1550.4,952.9 1550.6,952.4 1550.8,951.8 1551.0,951.0 1551.2,950.2 1551.4,949.3 1551.6,948.4 1551.8,947.4 1552.0,946.6 1552.2,945.8 1552.4,945.3 1552.6,945.0 1552.8,945.0 1553.0,945.3 1553.2,945.8 1553.4,946.5 1553.6,947.4 1553.8,948.3 1554.0,949.2 1554.2,950.1 1554.4,950.9 1554.6,951.5 1554.8,952.1 1555.0,952.5 1555.2,952.8 1555.4,953.0 1555.6,953.0 1555.8,953.0 1556.0,952.8 1556.2,952.6 1556.4,952.2 1556.6,951.9 1556.8,951.4 1557.0,951.0 1557.2,950.6 1557.4,950.2 1557.6,949.9 1557.8,949.7 1558.0,949.7 1558.2,949.8 1558.4,950.0 1558.6,950.3 1558.8,950.7 1559.0,951.2 1559.2,951.6 1559.4,952.1 1559.6,952.5 1559.8,952.9 1560.3,953.6 1560.8,954.0 1561.3,954.2 1561.8,954.3 1562.3,954.3 1562.8,954.4 1563.3,954.4 1563.8,954.4 1564.3,954.5 1564.8,954.5 1565.3,954.4 1565.8,954.4 1567.3,954.3 1568.8,954.3 1570.3,954.4 1571.8,954.4 1573.3,954.5 1574.8,954.5 1576.3,954.5 1577.8,954.5 1579.3,954.5 1580.8,954.4 1582.3,954.4 1583.8,954.5 1585.3,954.5 1586.8,954.4 1588.3,954.2 1589.8,954.3 1591.3,954.5 1592.8,954.5 1594.3,954.4 1595.8,954.3 1597.3,954.2 1598.8,954.3 1600.3,954.3 1601.8,954.3 1603.3,954.2 1604.8,954.1 1606.3,954.1 1607.8,954.2 1609.3,954.3 1610.8,954.3 1612.3,954.3 1613.8,954.3 1615.3,954.5 1616.8,954.4 1618.3,954.2 1619.8,954.2 1621.3,954.2 1622.8,954.2 1624.3,954.2 1625.8,954.3 1627.3,954.5 1628.8,954.5 1630.3,954.3 1631.8,954.3 1633.3,954.2 1634.5,954.2"/>
<use href="#cr" stroke="#f00" stroke-width="4.6" transform="translate(0.45,0.45)"/>
<path id="cb" stroke="#00f" d="M37.5,639.8 39.0,640.1 40.5,640.4 42.0,641.4 43.5,641.4 45.0,640.3 46.5,641.0 48.0,642.0 49.5,641.3 51.0,641.3 52.5,643.1 54.0,643.5 55.5,643.3 57.0,643.9 58.5,644.4 60.0,643.8 61.5,643.8 63.0,644.5 64.5,644.6 66.0,644.5 67.5,644.6 69.0,644.7 70.5,645.3 72.0,645.5 73.5,645.1 75.0,645.4 76.5,646.1 78.0,646.8 79.5,647.3 81.0,647.3 82.5,647.5 84.0,647.6 85.5,648.6 87.0,649.8 88.5,649.2 90.0,649.0 91.5,649.0 93.0,649.4 94.5,650.0 96.0,650.1 97.5,650.2 99.0,650.5 100.5,650.9 102.0,651.2 103.5,652.0 105.0,653.2 106.5,652.9 108.0,652.6 109.5,653.0 111.0,653.4 112.5,653.9 114.0,654.5 115.5,655.4 117.0,654.8 118.5,654.5 120.0,654.7 121.5,655.3 123.0,657.1 124.5,656.4 126.0,655.3 127.5,656.0 129.0,656.6 130.5,657.4 132.0,657.9 133.5,658.8 135.0,657.9 136.5,657.1 138.0,656.6 139.5,656.7 141.0,658.3 142.5,658.4 144.0,658.1 145.5,658.3 147.0,658.5 148.5,659.1 150.0,659.3 151.5,659.3 153.0,659.5 154.5,659.7 156.0,659.6 157.5,659.6 159.0,660.6 160.5,660.9 162.0,661.2 163.5,660.9 165.0,660.6 166.5,660.5 168.0,660.7 169.5,661.4 171.0,661.6 172.5,661.6 174.0,661.3 175.5,661.0 177.0,661.4 178.5,661.8 180.0,662.6 181.5,662.5 183.0,662.1 184.5,662.1 186.0,662.1 187.5,662.4 189.0,662.6 190.5,662.5 192.0,662.6 193.5,662.7 195.0,662.0 196.5,661.8 198.0,663.6 199.5,663.8 201.0,663.2 202.5,662.9 204.0,662.6 205.5,663.4 207.0,663.7 207.5,663.6 208.0,663.5 208.5,663.4 209.0,663.3 209.5,663.3 210.0,663.2 210.5,663.1 211.0,663.1 211.5,663.0 212.0,662.9 212.2,662.9 212.4,662.9 212.6,662.9 212.8,662.9 213.0,662.9 213.2,662.8 213.4,662.7 213.6,662.6 213.8,662.3 214.0,661.7 214.2,660.9 214.4,659.7 214.6,657.9 214.8,655.5 215.0,652.3 215.2,648.1 215.4,643.2 215.6,637.5 215.8,631.4 216.0,625.4 216.2,620.1 216.4,615.9 216.6,613.5 216.8,613.1 217.0,614.4 217.2,617.3 217.4,621.4 217.6,626.3 217.8,631.8 218.0,637.4 218.2,642.6 218.4,647.3 218.6,651.2 218.8,654.4 219.0,656.9 219.2,658.8 219.4,660.2 219.6,661.2 219.8,661.9 220.0,662.4 220.2,662.8 220.4,663.1 220.6,663.3 220.8,663.5 221.0,663.7 221.2,663.8 221.4,663.9 221.6,664.1 221.8,664.1 222.0,664.2 222.2,664.3 222.4,664.3 222.6,664.4 222.8,664.4 223.0,664.5 223.2,664.6 223.4,664.6 223.6,664.7 224.1,664.8 224.6,664.9 225.1,664.8 225.6,664.5 226.1,663.9 226.6,663.5 227.1,663.2 227.6,663.2 228.1,663.3 228.6,663.4 229.1,663.5 229.6,663.5 231.1,664.0 232.6,664.5 234.1,663.5 235.6,663.1 237.1,663.9 238.6,664.3 240.1,665.0 241.6,665.0 243.1,665.0 244.6,664.8 246.1,664.6 247.6,663.5 249.1,664.2 250.6,666.0 252.1,665.5 253.6,665.0 255.1,665.2 256.6,665.2 258.1,665.1 259.6,664.6 261.1,663.8 262.6,663.9 264.1,664.0 265.6,664.1 267.1,664.6 268.6,666.1 270.1,665.4 271.6,664.5 273.1,664.8 274.6,664.9 276.1,664.9 277.6,665.1 279.1,665.5 280.6,665.5 282.1,665.5 283.6,665.4 285.1,665.3 286.6,664.6 288.1,664.1 289.6,663.4 291.1,664.5 292.6,665.5 294.1,665.6 295.6,665.7 297.1,666.2 298.6,665.9 300.1,665.4 301.6,665.3 303.1,665.2 304.6,665.7 306.1,665.6 307.6,664.7 309.1,664.8 310.6,665.0 312.1,665.1 313.6,665.2 315.1,665.8 316.6,666.3 318.1,667.1 319.6,666.7 321.1,666.4 322.6,666.5 324.1,666.6 325.6,666.2 327.1,666.1 328.6,666.2 330.1,665.9 331.6,665.8 333.1,665.9 334.6,665.7 336.1,664.7 337.6,664.9 339.1,665.4 340.6,665.4 342.1,665.5 343.6,666.5 345.1,666.7 346.6,666.7 348.1,666.8 349.6,667.0 351.1,667.2 352.6,667.2 354.1,666.3 355.6,666.4 357.1,667.0 358.6,667.3 360.1,667.6 361.6,666.8 363.1,666.5 364.6,667.1 366.1,666.9 367.6,666.4 369.1,665.9 370.6,665.6 372.1,666.4 373.6,666.5 375.1,666.1 376.6,666.3 378.1,666.7 379.6,666.5 381.1,666.4 382.6,666.8 384.1,666.6 385.6,665.4 387.1,666.6 388.6,668.0 390.1,667.8 391.6,667.5 393.1,666.8 394.6,666.6 396.1,666.3 397.6,666.7 399.1,667.0 400.6,667.3 402.1,667.4 403.6,667.3 405.1,667.4 406.6,667.4 408.1,666.6 408.6,666.2 409.1,666.0 409.6,666.0 410.1,666.1 410.6,666.3 411.1,666.4 411.6,666.4 412.1,666.4 412.6,666.4 413.1,666.5 413.6,666.3 413.8,666.1 414.0,665.8 414.2,665.5 414.4,665.0 414.6,664.3 414.8,663.6 415.0,662.7 415.2,661.8 415.4,660.7 415.6,659.6 415.8,658.5 416.0,657.2 416.2,656.0 416.4,654.7 416.6,653.5 416.8,652.4 417.0,651.3 417.2,650.3 417.4,649.4 417.6,648.7 417.8,648.0 418.0,647.6 418.2,647.3 418.4,647.1 418.6,647.2 418.8,647.5 419.0,647.9 419.2,648.5 419.4,649.3 419.6,650.3 419.8,651.3 420.0,652.5 420.2,653.6 420.4,654.9 420.6,656.1 420.8,657.3 421.0,658.4 421.2,659.5 421.4,660.6 421.6,661.5 421.8,662.3 422.0,663.1 422.2,663.8 422.4,664.3 422.6,664.8 422.8,665.2 423.0,665.5 423.2,665.8 423.4,666.0 423.6,666.1 423.8,666.2 424.0,666.3 424.2,666.4 424.4,666.4 424.6,666.5 424.8,666.5 425.0,666.6 425.2,666.6 425.4,666.6 425.9,666.7 426.4,666.8 426.9,666.9 427.4,667.0 427.9,667.1 428.4,667.4 428.9,667.7 429.4,668.1 429.9,668.3 430.4,668.3 430.9,668.2 431.4,668.0 432.9,667.6 434.4,668.2 435.9,668.4 437.4,667.9 438.9,667.5 440.4,666.8 441.9,667.1 443.4,667.4 444.9,668.8 446.4,668.8 447.9,667.3 449.4,667.1 450.9,666.8 452.4,667.5 452.9,667.8 453.4,667.8 453.9,667.6 454.4,667.3 454.9,666.9 455.4,666.5 455.9,666.1 456.4,665.7 456.9,665.2 457.4,664.5 457.6,664.2 457.8,663.8 458.0,663.4 458.2,662.9 458.4,662.2 458.6,661.3 458.8,660.1 459.0,658.4 459.2,655.8 459.4,651.9 459.6,646.2 459.8,637.8 460.0,626.1 460.2,610.4 460.4,590.1 460.6,565.1 460.8,536.1 461.0,504.2 461.2,471.4 461.4,440.1 461.6,413.4 461.8,394.1 462.0,383.9 462.2,383.1 462.4,389.8 462.6,401.6 462.8,416.4 463.0,432.7 463.2,450.0 463.4,468.3 463.6,488.2 463.8,509.4 464.0,531.4 464.2,553.2 464.4,574.0 464.6,592.9 464.8,609.4 465.0,623.3 465.2,634.5 465.4,643.1 465.6,649.6 465.8,654.3 466.0,657.6 466.2,659.8 466.4,661.4 466.6,662.4 466.8,663.2 467.0,663.7 467.2,664.1 467.4,664.3 467.6,664.5 467.8,664.7 468.0,664.8 468.2,665.0 468.4,665.1 468.6,665.2 468.8,665.3 469.0,665.4 469.5,665.7 470.0,665.9 470.5,666.0 471.0,666.1 471.5,666.2 472.0,666.3 472.5,666.5 473.0,666.7 473.5,666.9 474.0,667.0 474.5,667.1 475.0,667.4 476.5,668.4 478.0,668.3 479.5,667.8 481.0,667.2 482.5,666.9 484.0,667.3 485.5,667.8 487.0,669.0 488.5,668.9 490.0,668.8 491.5,667.9 493.0,667.7 494.5,669.4 496.0,669.2 497.5,668.0 499.0,667.7 500.5,667.5 502.0,667.9 503.5,668.2 505.0,668.8 506.5,669.0 508.0,669.3 509.5,669.1 511.0,668.9 512.5,668.2 514.0,668.0 515.5,667.9 517.0,667.7 518.5,667.3 520.0,667.9 521.5,668.2 523.0,668.0 524.5,668.0 526.0,668.4 527.5,668.0 529.0,667.5 530.5,667.8 532.0,667.9 533.5,667.8 535.0,667.7 536.5,667.5 538.0,667.5 539.5,667.5 541.0,667.6 542.5,667.6 543.0,667.6 543.5,667.5 544.0,667.5 544.5,667.5 545.0,667.5 545.5,667.7 546.0,668.0 546.5,668.1 547.0,668.1 547.5,667.9 547.7,667.8 547.9,667.7 548.1,667.6 548.3,667.4 548.5,667.2 548.7,667.1 548.9,666.9 549.1,666.8 549.3,666.6 549.5,666.4 549.7,666.3 549.9,666.1 550.1,665.9 550.3,665.7 550.5,665.5 550.7,665.3 550.9,665.1 551.1,664.9 551.3,664.7 551.5,664.5 551.7,664.4 551.9,664.3 552.1,664.3 552.3,664.3 552.5,664.4 552.7,664.5 552.9,664.6 553.1,664.8 553.3,665.1 553.5,665.3 553.7,665.6 553.9,665.9 554.1,666.1 554.3,666.4 554.5,666.6 554.7,666.8 554.9,667.0 555.1,667.1 555.3,667.2 555.5,667.3 555.7,667.5 555.9,667.6 556.1,667.6 556.3,667.7 556.5,667.8 556.7,667.9 556.9,667.9 557.1,668.0 557.3,668.0 557.5,668.1 557.7,668.1 557.9,668.2 558.1,668.3 558.3,668.4 558.5,668.5 558.7,668.6 558.9,668.7 559.1,668.8 559.6,669.0 560.1,669.1 560.6,669.0 561.1,668.8 561.6,668.5 562.1,668.2 562.6,668.1 563.1,668.1 563.6,668.1 564.1,668.0 564.6,668.0 565.1,668.0 565.6,668.0 566.1,667.9 566.6,667.8 567.1,667.6 567.6,667.5 568.1,667.4 568.6,667.4 568.8,667.4 569.0,667.4 569.2,667.4 569.4,667.4 569.6,667.4 569.8,667.4 570.0,667.3 570.2,667.2 570.4,666.9 570.6,666.6 570.8,666.1 571.0,665.4 571.2,664.3 571.4,662.7 571.6,660.6 571.8,657.7 572.0,654.0 572.2,649.6 572.4,644.5 572.6,638.9 572.8,633.3 573.0,628.1 573.2,623.8 573.4,620.9 573.6,619.6 573.8,620.0 574.0,621.6 574.2,624.0 574.4,626.7 574.6,629.4 574.8,631.8 575.0,634.0 575.2,636.1 575.4,638.5 575.6,641.1 575.8,644.1 576.0,647.3 576.2,650.6 576.4,653.8 576.6,656.7 576.8,659.2 577.0,661.4 577.2,663.1 577.4,664.4 577.6,665.3 577.8,666.0 578.0,666.5 578.2,666.8 578.4,667.1 578.6,667.2 578.8,667.4 579.0,667.5 579.2,667.6 579.4,667.8 579.6,667.9 579.8,668.0 580.0,668.1 580.2,668.2 580.4,668.2 580.6,668.3 581.1,668.4 581.6,668.4 582.1,668.3 582.6,668.3 583.1,668.2 583.6,668.3 584.1,668.3 584.6,668.3 585.1,668.4 585.6,668.4 586.1,668.4 586.6,668.4 588.1,667.8 589.6,667.9 591.1,668.4 592.6,668.1 594.1,667.7 595.6,667.8 597.1,667.9 598.6,668.4 599.1,668.4 599.6,668.5 600.1,668.8 600.6,669.1 601.1,669.4 601.6,669.6 602.1,669.5 602.6,669.3 603.1,669.1 603.6,668.9 603.8,668.8 604.0,668.7 604.2,668.7 604.4,668.6 604.6,668.6 604.8,668.5 605.0,668.4 605.2,668.2 605.4,668.0 605.6,667.8 605.8,667.4 606.0,667.0 606.2,666.3 606.4,665.4 606.6,664.3 606.8,662.8 607.0,661.0 607.2,658.9 607.4,656.5 607.6,654.1 607.8,651.7 608.0,649.6 608.2,648.0 608.4,647.1 608.6,647.0 608.8,647.5 609.0,648.5 609.2,649.7 609.4,650.9 609.6,652.0 609.8,653.0 610.0,653.9 610.2,654.7 610.4,655.7 610.6,656.8 610.8,658.1 611.0,659.5 611.2,660.9 611.4,662.4 611.6,663.7 611.8,664.8 612.0,665.7 612.2,666.5 612.4,667.0 612.6,667.5 612.8,667.8 613.0,668.0 613.2,668.1 613.4,668.2 613.6,668.2 613.8,668.3 614.0,668.3 614.2,668.3 614.4,668.3 614.6,668.2 614.8,668.2 615.0,668.1 615.2,668.0 615.4,668.0 615.6,667.9 615.8,667.8 616.0,667.7 616.2,667.6 616.4,667.5 616.6,667.4 616.8,667.3 617.0,667.2 617.2,667.1 617.4,667.0 617.6,666.9 617.8,666.8 618.0,666.6 618.2,666.5 618.4,666.3 618.6,666.1 618.8,666.0 619.0,665.8 619.2,665.7 619.4,665.6 619.6,665.5 619.8,665.5 620.0,665.5 620.2,665.5 620.4,665.5 620.6,665.6 620.8,665.6 621.0,665.7 621.2,665.8 621.4,665.9 621.6,666.0 621.8,666.1 622.0,666.2 622.2,666.3 622.4,666.4 622.6,666.5 622.8,666.5 623.0,666.6 623.2,666.7 623.4,666.8 623.6,666.8 623.8,666.9 624.0,666.9 624.2,667.0 624.4,667.1 624.6,667.1 624.8,667.2 625.0,667.2 625.2,667.3 625.4,667.4 625.6,667.5 625.8,667.5 626.0,667.6 626.2,667.7 626.4,667.7 626.6,667.8 626.8,667.8 627.0,667.9 627.5,667.9 628.0,668.0 628.5,668.0 629.0,667.9 629.5,667.9 630.0,667.8 630.5,667.8 631.0,667.9 631.5,668.0 632.0,668.1 632.5,668.2 633.0,668.3 634.5,667.5 636.0,667.1 637.5,667.6 639.0,668.0 640.5,668.7 642.0,668.3 643.5,667.9 645.0,668.6 646.5,668.7 648.0,667.8 649.5,667.9 651.0,668.3 652.5,668.5 654.0,668.7 655.5,668.1 657.0,667.9 658.5,668.0 660.0,668.8 661.5,670.1 663.0,668.9 664.5,668.1 666.0,668.1 667.5,668.1 669.0,668.2 670.5,668.3 672.0,668.5 673.5,668.5 675.0,668.6 676.5,669.1 678.0,669.1 679.5,669.0 681.0,668.6 682.5,668.2 684.0,668.2 685.5,668.1 686.0,667.9 686.5,667.7 687.0,667.5 687.5,667.4 688.0,667.3 688.5,667.3 689.0,667.1 689.5,667.0 690.0,666.8 690.5,666.7 691.0,666.5 691.2,666.5 691.4,666.5 691.6,666.4 691.8,666.4 692.0,666.3 692.2,666.2 692.4,666.1 692.6,666.0 692.8,665.9 693.0,665.8 693.2,665.8 693.4,665.7 693.6,665.7 693.8,665.7 694.0,665.7 694.2,665.7 694.4,665.7 694.6,665.7 694.8,665.7 695.0,665.7 695.2,665.7 695.4,665.6 695.6,665.6 695.8,665.6 696.0,665.5 696.2,665.5 696.4,665.5 696.6,665.5 696.8,665.4 697.0,665.5 697.2,665.5 697.4,665.5 697.6,665.6 697.8,665.7 698.0,665.8 698.2,665.9 698.4,666.0 698.6,666.2 698.8,666.3 699.0,666.5 699.2,666.7 699.4,666.8 699.6,667.0 699.8,667.2 700.0,667.3 700.2,667.5 700.4,667.6 700.6,667.7 700.8,667.8 701.0,667.9 701.2,668.0 701.4,668.1 701.6,668.2 701.8,668.3 702.0,668.3 702.2,668.4 702.4,668.5 702.6,668.6 702.8,668.6 703.0,668.7 703.5,668.7 704.0,668.7 704.5,668.5 705.0,668.4 705.5,668.3 706.0,668.4 706.5,668.7 707.0,669.1 707.5,669.5 708.0,669.8 708.5,669.8 709.0,669.5 710.5,668.3 712.0,668.2 713.5,668.1 715.0,668.2 716.5,668.3 718.0,669.0 719.5,669.0 721.0,668.4 722.5,668.1 724.0,667.8 724.5,667.9 725.0,668.1 725.5,668.2 726.0,668.3 726.5,668.4 727.0,668.3 727.5,668.3 728.0,668.4 728.5,668.3 729.0,668.2 729.5,667.9 729.7,667.8 729.9,667.6 730.1,667.3 730.3,667.1 730.5,666.8 730.7,666.4 730.9,665.9 731.1,665.3 731.3,664.4 731.5,663.2 731.7,661.4 731.9,658.8 732.1,655.2 732.3,650.3 732.5,643.9 732.7,635.8 732.9,626.2 733.1,615.3 733.3,603.7 733.5,592.2 733.7,581.7 733.9,573.4 734.1,568.3 734.3,567.0 734.5,569.2 734.7,574.3 734.9,581.0 735.1,588.2 735.3,594.8 735.5,600.1 735.7,604.0 735.9,606.5 736.1,608.2 736.3,609.7 736.5,611.6 736.7,614.7 736.9,618.9 737.1,624.3 737.3,630.2 737.5,636.4 737.7,642.4 737.9,647.9 738.1,652.7 738.3,656.7 738.5,659.8 738.7,662.2 738.9,663.9 739.1,665.2 739.3,666.0 739.5,666.6 739.7,667.0 739.9,667.3 740.1,667.6 740.3,667.7 740.5,667.9 740.7,668.0 740.9,668.1 741.1,668.2 741.3,668.2 741.8,668.4 742.3,668.5 742.8,668.4 743.3,668.2 743.8,668.0 744.3,667.8 744.8,667.8 745.3,667.9 745.8,668.1 746.3,668.3 746.8,668.5 747.3,668.6 748.8,668.7 750.3,668.7 751.8,667.7 753.3,667.9 754.8,669.3 756.3,669.1 757.8,668.7 759.3,668.5 760.8,668.6 762.3,669.9 763.8,669.7 765.3,668.8 766.8,668.4 768.3,668.2 769.8,668.4 771.3,668.6 772.8,668.7 773.3,668.7 773.8,668.7 774.3,668.6 774.8,668.5 775.3,668.4 775.8,668.2 776.3,667.9 776.8,667.5 777.3,667.1 777.8,666.6 778.3,666.1 778.5,665.9 778.7,665.7 778.9,665.5 779.1,665.3 779.3,665.1 779.5,664.8 779.7,664.6 779.9,664.4 780.1,664.1 780.3,663.9 780.5,663.7 780.7,663.5 780.9,663.3 781.1,663.1 781.3,663.0 781.5,662.8 781.7,662.7 781.9,662.6 782.1,662.5 782.3,662.4 782.5,662.4 782.7,662.3 782.9,662.3 783.1,662.3 783.3,662.3 783.5,662.3 783.7,662.4 783.9,662.4 784.1,662.5 784.3,662.6 784.5,662.7 784.7,662.8 784.9,662.9 785.1,663.0 785.3,663.1 785.5,663.3 785.7,663.4 785.9,663.6 786.1,663.8 786.3,664.0 786.5,664.1 786.7,664.3 786.9,664.5 787.1,664.6 787.3,664.8 787.5,665.0 787.7,665.1 787.9,665.3 788.1,665.4 788.3,665.6 788.5,665.7 788.7,665.8 788.9,666.0 789.1,666.1 789.3,666.3 789.5,666.5 789.7,666.6 789.9,666.8 790.1,667.0 790.3,667.2 790.8,667.5 791.3,667.8 791.8,667.9 792.3,667.9 792.8,667.9 793.3,667.8 793.8,667.7 794.3,667.6 794.8,667.5 795.3,667.4 795.8,667.3 796.3,667.1 796.8,666.8 797.3,666.4 797.8,665.8 798.3,665.2 798.5,665.0 798.7,664.7 798.9,664.5 799.1,664.3 799.3,664.1 799.5,663.9 799.7,663.6 799.9,663.4 800.1,663.2 800.3,663.0 800.5,662.9 800.7,662.7 800.9,662.5 801.1,662.3 801.3,662.2 801.5,662.0 801.7,661.9 801.9,661.8 802.1,661.7 802.3,661.7 802.5,661.6 802.7,661.6 802.9,661.7 803.1,661.7 803.3,661.8 803.5,661.9 803.7,662.0 803.9,662.1 804.1,662.2 804.3,662.3 804.5,662.5 804.7,662.6 804.9,662.8 805.1,662.9 805.3,663.1 805.5,663.3 805.7,663.4 805.9,663.6 806.1,663.8 806.3,664.0 806.5,664.2 806.7,664.4 806.9,664.6 807.1,664.8 807.3,665.0 807.5,665.3 807.7,665.5 807.9,665.8 808.1,666.1 808.3,666.4 808.5,666.6 808.7,666.9 808.9,667.2 809.1,667.4 809.3,667.6 809.5,667.8 809.7,667.9 809.9,668.0 810.1,668.1 810.6,668.0 811.1,667.9 811.6,667.7 812.1,667.6 812.6,667.7 813.1,667.9 813.6,668.1 814.1,668.3 814.6,668.5 814.8,668.5 815.0,668.5 815.2,668.5 815.4,668.4 815.6,668.4 815.8,668.3 816.0,668.2 816.2,668.1 816.4,667.9 816.6,667.7 816.8,667.3 817.0,666.8 817.2,666.0 817.4,665.0 817.6,663.7 817.8,662.1 818.0,660.2 818.2,658.0 818.4,655.7 818.6,653.4 818.8,651.3 819.0,649.6 819.2,648.6 819.4,648.4 819.6,648.8 819.8,649.9 820.0,651.4 820.2,652.9 820.4,654.4 820.6,655.7 820.8,656.6 821.0,657.2 821.2,657.5 821.4,657.7 821.6,657.8 821.8,658.0 822.0,658.5 822.2,659.2 822.4,660.2 822.6,661.3 822.8,662.5 823.0,663.7 823.2,664.8 823.4,665.7 823.6,666.5 823.8,667.1 824.0,667.6 824.2,667.9 824.4,668.2 824.6,668.3 824.8,668.4 825.0,668.5 825.2,668.6 825.4,668.6 825.6,668.6 825.8,668.6 826.0,668.5 826.2,668.3 826.4,668.2 826.9,667.8 827.4,667.5 827.9,667.4 828.4,667.6 828.9,668.0 829.4,668.5 829.9,669.0 830.4,669.2 830.9,669.2 831.4,669.3 831.9,669.3 832.4,669.4 833.9,669.2 835.4,668.4 836.9,669.1 838.4,670.0 839.9,669.3 841.4,669.0 842.9,668.3 844.4,668.5 845.9,669.3 847.4,669.0 848.9,668.7 850.4,668.3 851.9,668.0 853.4,667.6 854.9,668.0 856.4,669.0 857.9,668.6 859.4,668.4 860.9,669.0 862.4,669.1 863.9,669.0 865.4,668.7 866.9,668.3 868.4,668.3 869.9,668.4 871.4,669.5 872.9,669.7 874.4,669.6 875.9,669.3 877.4,668.9 878.9,668.4 880.4,668.2 881.9,667.8 883.4,667.8 884.9,668.1 886.4,668.7 887.9,669.3 889.4,668.8 890.9,668.4 892.4,668.1 893.9,667.8 895.4,667.4 896.9,667.8 898.4,668.2 899.9,667.6 901.4,667.6 902.9,668.0 904.4,668.1 905.9,668.4 907.4,668.5 908.9,668.5 910.4,668.0 911.9,667.8 913.4,667.6 914.9,667.7 916.4,667.9 917.9,668.5 919.4,668.7 920.9,668.0 922.4,667.5 923.9,666.7 925.4,667.6 926.9,668.4 928.4,667.7 929.9,667.7 931.4,669.2 932.9,668.5 934.4,666.7 935.9,666.7 937.4,666.7 938.9,666.5 940.4,666.4 941.9,666.5 942.4,666.5 942.9,666.3 943.4,666.1 943.9,665.8 944.4,665.5 944.9,665.3 945.4,665.1 945.9,664.8 946.4,664.3 946.9,663.9 947.1,663.7 947.3,663.5 947.5,663.2 947.7,662.9 947.9,662.6 948.1,662.1 948.3,661.4 948.5,660.4 948.7,659.0 948.9,656.9 949.1,653.9 949.3,649.7 949.5,644.1 949.7,636.7 949.9,627.4 950.1,616.3 950.3,603.6 950.5,589.8 950.7,575.9 950.9,562.9 951.1,552.1 951.3,544.7 951.5,541.9 951.7,543.8 951.9,550.1 952.1,559.5 952.3,570.5 952.5,581.7 952.7,591.8 952.9,599.9 953.1,605.5 953.3,608.4 953.5,608.8 953.7,607.4 953.9,604.9 954.1,602.4 954.3,600.6 954.5,600.5 954.7,602.5 954.9,606.5 955.1,612.2 955.3,618.9 955.5,626.1 955.7,633.2 955.9,639.7 956.1,645.4 956.3,650.1 956.5,654.0 956.7,656.9 956.9,659.0 957.1,660.6 957.3,661.7 957.5,662.4 957.7,663.0 957.9,663.3 958.1,663.6 958.3,663.9 958.5,664.2 959.0,664.9 959.5,665.6 960.0,666.1 960.5,666.4 961.0,666.4 961.5,666.3 962.0,666.1 962.5,665.9 963.0,665.8 963.5,665.9 964.0,665.9 964.5,666.0 966.0,666.0 967.5,665.3 969.0,665.1 970.5,665.5 972.0,665.3 973.5,665.1 975.0,665.0 976.5,665.1 978.0,665.5 979.5,665.6 981.0,665.5 982.5,665.4 984.0,665.3 985.5,665.2 987.0,665.0 988.5,664.2 990.0,664.2 991.5,664.5 993.0,664.8 994.5,665.1 996.0,664.8 997.5,664.6 999.0,664.4 1000.5,664.6 1002.0,665.0 1003.5,664.5 1005.0,664.2 1006.5,664.2 1008.0,664.4 1009.5,665.1 1011.0,664.9 1012.5,664.4 1014.0,665.0 1015.5,665.4 1016.0,665.2 1016.5,665.1 1017.0,664.9 1017.5,664.8 1018.0,664.8 1018.5,664.8 1019.0,664.8 1019.5,664.8 1020.0,664.8 1020.5,664.8 1020.7,664.7 1020.9,664.7 1021.1,664.7 1021.3,664.7 1021.5,664.7 1021.7,664.7 1021.9,664.6 1022.1,664.5 1022.3,664.4 1022.5,664.2 1022.7,663.9 1022.9,663.5 1023.1,662.9 1023.3,662.0 1023.5,660.8 1023.7,659.3 1023.9,657.6 1024.1,655.6 1024.3,653.5 1024.5,651.3 1024.7,649.3 1024.9,647.6 1025.1,646.5 1025.3,646.0 1025.5,646.3 1025.7,647.2 1025.9,648.5 1026.1,650.2 1026.3,651.9 1026.5,653.6 1026.7,655.0 1026.9,656.0 1027.1,656.7 1027.3,657.0 1027.5,657.0 1027.7,656.7 1027.9,656.3 1028.1,655.8 1028.3,655.4 1028.5,655.2 1028.7,655.3 1028.9,655.7 1029.1,656.4 1029.3,657.1 1029.5,658.0 1029.7,658.9 1029.9,659.7 1030.1,660.4 1030.3,661.1 1030.5,661.6 1030.7,662.0 1030.9,662.3 1031.1,662.6 1031.3,662.7 1031.5,662.9 1031.7,663.0 1031.9,663.1 1032.1,663.2 1032.3,663.3 1032.8,663.4 1033.3,663.5 1033.8,663.5 1034.3,663.6 1034.8,663.6 1035.3,663.7 1035.8,663.7 1036.3,663.7 1036.8,663.9 1037.3,664.1 1037.8,664.3 1038.3,664.4 1039.8,663.9 1041.3,663.5 1042.8,664.1 1044.3,664.2 1045.8,663.0 1047.3,662.9 1048.8,663.0 1050.3,663.0 1051.8,663.0 1053.3,663.3 1054.8,663.2 1056.3,662.6 1057.8,662.4 1059.3,662.1 1060.8,662.1 1062.3,662.0 1063.8,661.4 1065.3,661.6 1066.8,662.7 1068.3,662.6 1069.8,662.3 1071.3,662.1 1072.8,661.9 1074.3,661.8 1075.8,661.5 1077.3,660.9 1078.8,660.9 1080.3,660.8 1081.8,661.2 1083.3,661.2 1084.8,660.3 1086.3,660.1 1087.8,659.9 1089.3,660.6 1090.8,661.2 1092.3,661.0 1093.8,660.8 1095.3,660.0 1096.8,659.9 1098.3,659.9 1099.8,659.6 1101.3,659.5 1102.8,659.9 1104.3,659.7 1105.8,658.7 1107.3,658.7 1108.8,658.7 1110.3,658.7 1111.8,658.8 1113.3,659.1 1114.8,658.8 1116.3,657.9 1117.8,657.9 1119.3,657.9 1120.8,657.4 1122.3,657.2 1123.8,657.0 1125.3,656.8 1126.8,656.7 1128.3,656.8 1129.8,656.8 1131.3,657.0 1132.8,656.8 1133.3,656.5 1133.8,656.1 1134.3,655.8 1134.8,655.7 1135.3,655.6 1135.8,655.6 1136.3,655.5 1136.8,655.4 1137.3,655.2 1137.8,655.1 1138.3,654.9 1138.5,654.9 1138.7,654.8 1138.9,654.7 1139.1,654.5 1139.3,654.4 1139.5,654.2 1139.7,653.8 1139.9,653.4 1140.1,652.7 1140.3,651.8 1140.5,650.5 1140.7,648.7 1140.9,646.3 1141.1,643.0 1141.3,638.9 1141.5,633.9 1141.7,628.1 1141.9,621.7 1142.1,615.1 1142.3,608.6 1142.5,602.9 1142.7,598.6 1142.9,596.2 1143.1,596.1 1143.3,598.3 1143.5,602.4 1143.7,607.7 1143.9,613.8 1144.1,619.8 1144.3,625.4 1144.5,630.0 1144.7,633.5 1144.9,635.7 1145.1,636.5 1145.3,636.2 1145.5,634.8 1145.7,632.7 1145.9,630.2 1146.1,627.7 1146.3,625.6 1146.5,624.3 1146.7,624.1 1146.9,625.0 1147.1,626.9 1147.3,629.5 1147.5,632.7 1147.7,636.0 1147.9,639.3 1148.1,642.4 1148.3,645.1 1148.5,647.4 1148.7,649.3 1148.9,650.7 1149.1,651.8 1149.3,652.7 1149.5,653.3 1149.7,653.7 1149.9,654.0 1150.1,654.2 1150.6,654.4 1151.1,654.4 1151.6,654.2 1152.1,654.0 1152.6,653.9 1153.1,653.9 1153.6,654.1 1154.1,654.3 1154.6,654.6 1155.1,654.8 1155.6,654.9 1156.1,654.7 1157.6,653.8 1159.1,653.6 1160.6,653.5 1162.1,653.5 1163.6,653.5 1165.1,653.8 1166.6,653.7 1168.1,653.1 1169.6,653.3 1171.1,653.7 1172.6,653.6 1174.1,653.5 1175.6,653.4 1177.1,653.3 1178.6,653.3 1180.1,653.4 1181.6,653.5 1183.1,652.7 1184.6,652.4 1186.1,652.6 1187.6,652.6 1189.1,652.5 1190.6,651.8 1192.1,651.1 1193.6,652.1 1195.1,652.3 1196.6,651.6 1198.1,651.5 1199.6,651.4 1201.1,651.3 1201.6,651.3 1202.1,651.3 1202.6,651.3 1203.1,651.3 1203.6,651.3 1204.1,651.4 1204.6,651.4 1205.1,651.3 1205.6,651.3 1206.1,651.3 1206.6,651.2 1207.1,651.2 1207.3,651.2 1207.5,651.1 1207.7,651.1 1207.9,651.1 1208.1,651.0 1208.3,650.9 1208.5,650.8 1208.7,650.7 1208.9,650.6 1209.1,650.3 1209.3,650.0 1209.5,649.5 1209.7,648.8 1209.9,648.0 1210.1,646.9 1210.3,645.6 1210.5,644.1 1210.7,642.4 1210.9,640.7 1211.1,639.0 1211.3,637.5 1211.5,636.3 1211.7,635.6 1211.9,635.5 1212.1,636.0 1212.3,636.9 1212.5,638.2 1212.7,639.8 1212.9,641.3 1213.1,642.8 1213.3,644.1 1213.5,645.1 1213.7,645.9 1213.9,646.3 1214.1,646.5 1214.3,646.3 1214.5,646.0 1214.7,645.4 1214.9,644.8 1215.1,644.2 1215.3,643.7 1215.5,643.3 1215.7,643.2 1215.9,643.3 1216.1,643.7 1216.3,644.3 1216.5,645.1 1216.7,645.9 1216.9,646.7 1217.1,647.4 1217.3,648.1 1217.5,648.6 1217.7,649.1 1217.9,649.4 1218.1,649.7 1218.3,649.9 1218.5,650.0 1218.7,650.0 1218.9,650.0 1219.4,649.9 1219.9,649.8 1220.4,649.7 1220.9,649.7 1221.4,649.7 1221.9,649.8 1222.4,649.8 1222.9,649.8 1223.4,649.8 1223.9,649.9 1224.4,650.0 1224.9,650.1 1226.4,650.0 1227.9,649.7 1229.4,649.7 1230.9,649.6 1232.4,649.3 1233.9,649.1 1235.4,649.4 1236.9,649.6 1238.4,650.0 1239.9,649.4 1241.4,648.6 1242.9,647.6 1244.4,647.3 1245.9,648.8 1247.4,648.5 1248.9,647.4 1250.4,647.1 1251.9,646.8 1253.4,646.3 1254.9,646.4 1256.4,647.7 1257.9,647.9 1259.4,648.2 1260.9,648.1 1262.4,648.0 1263.9,647.3 1265.4,647.3 1266.9,648.1 1268.4,647.8 1269.9,647.1 1271.4,646.8 1272.9,646.6 1274.4,646.7 1275.9,646.7 1277.4,646.6 1278.9,646.4 1280.4,646.2 1281.9,646.2 1283.4,645.9 1284.9,644.6 1286.4,644.8 1287.9,646.3 1289.4,645.5 1290.9,644.7 1292.4,645.1 1293.9,645.1 1295.4,644.2 1296.9,644.2 1298.4,644.4 1299.9,644.2 1301.4,644.0 1302.9,643.3 1304.4,643.3 1305.9,644.2 1307.4,644.3 1308.9,644.3 1310.4,643.6 1310.9,643.3 1311.4,643.1 1311.9,643.1 1312.4,642.9 1312.9,642.7 1313.4,642.5 1313.9,642.4 1314.4,642.3 1314.9,642.4 1315.4,642.6 1315.9,642.7 1316.1,642.8 1316.3,642.8 1316.5,642.8 1316.7,642.7 1316.9,642.6 1317.1,642.5 1317.3,642.3 1317.5,642.1 1317.7,641.8 1317.9,641.3 1318.1,640.7 1318.3,639.8 1318.5,638.5 1318.7,636.8 1318.9,634.6 1319.1,631.7 1319.3,628.3 1319.5,624.2 1319.7,619.7 1319.9,614.9 1320.1,610.1 1320.3,605.7 1320.5,602.2 1320.7,599.8 1320.9,599.0 1321.1,599.9 1321.3,602.3 1321.5,605.9 1321.7,610.2 1321.9,614.9 1322.1,619.5 1322.3,623.8 1322.5,627.5 1322.7,630.4 1322.9,632.5 1323.1,633.7 1323.3,634.2 1323.5,633.8 1323.7,632.8 1323.9,631.3 1324.1,629.4 1324.3,627.2 1324.5,625.1 1324.7,623.2 1324.9,621.8 1325.1,621.1 1325.3,621.2 1325.5,622.2 1325.7,623.9 1325.9,626.0 1326.1,628.5 1326.3,631.1 1326.5,633.6 1326.7,635.8 1326.9,637.8 1327.1,639.4 1327.3,640.7 1327.5,641.6 1327.7,642.3 1327.9,642.8 1328.4,643.4 1328.9,643.6 1329.4,643.6 1329.9,643.6 1330.4,643.6 1330.9,643.5 1331.4,643.4 1331.9,643.3 1332.4,643.3 1332.9,643.3 1333.4,643.4 1333.9,643.5 1335.4,643.4 1336.9,642.0 1338.4,642.0 1339.9,642.9 1341.4,642.9 1342.9,642.9 1344.4,643.2 1345.9,643.4 1347.4,643.6 1348.9,643.6 1350.4,643.5 1351.9,643.8 1353.4,644.0 1354.9,643.2 1356.4,643.1 1357.9,643.6 1359.4,643.6 1360.9,643.4 1362.4,643.5 1363.9,643.6 1365.4,643.7 1366.9,643.7 1368.4,643.4 1369.9,643.6 1371.4,643.7 1372.9,643.7 1374.4,643.7 1375.9,644.2 1376.4,644.3 1376.9,644.2 1377.4,644.1 1377.9,643.9 1378.4,643.7 1378.9,643.5 1379.4,643.5 1379.9,643.5 1380.4,643.5 1380.9,643.5 1381.1,643.4 1381.3,643.3 1381.5,643.2 1381.7,643.1 1381.9,643.0 1382.1,642.9 1382.3,642.8 1382.5,642.7 1382.7,642.7 1382.9,642.6 1383.1,642.5 1383.3,642.3 1383.5,642.2 1383.7,642.0 1383.9,641.8 1384.1,641.6 1384.3,641.3 1384.5,641.0 1384.7,640.7 1384.9,640.4 1385.1,640.2 1385.3,639.9 1385.5,639.7 1385.7,639.6 1385.9,639.5 1386.1,639.4 1386.3,639.4 1386.5,639.5 1386.7,639.6 1386.9,639.8 1387.1,640.0 1387.3,640.2 1387.5,640.3 1387.7,640.5 1387.9,640.6 1388.1,640.8 1388.3,640.8 1388.5,640.9 1388.7,641.0 1388.9,641.0 1389.1,641.1 1389.3,641.1 1389.5,641.1 1389.7,641.2 1389.9,641.3 1390.1,641.3 1390.3,641.5 1390.5,641.6 1390.7,641.8 1390.9,641.9 1391.1,642.1 1391.3,642.3 1391.5,642.5 1391.7,642.7 1391.9,642.9 1392.1,643.0 1392.3,643.2 1392.5,643.3 1393.0,643.3 1393.5,643.2 1394.0,643.1 1394.5,643.0 1395.0,643.1 1395.5,643.4 1396.0,643.7 1396.5,644.0 1397.0,644.2 1397.5,644.3 1398.0,644.3 1398.5,644.3 1399.0,644.3 1399.5,644.3 1400.0,644.3 1400.5,644.3 1401.0,644.2 1401.5,644.2 1402.0,644.0 1402.2,644.0 1402.4,643.9 1402.6,643.9 1402.8,643.8 1403.0,643.8 1403.2,643.7 1403.4,643.6 1403.6,643.5 1403.8,643.4 1404.0,643.3 1404.2,643.2 1404.4,643.1 1404.6,642.9 1404.8,642.8 1405.0,642.6 1405.2,642.4 1405.4,642.2 1405.6,642.1 1405.8,641.9 1406.0,641.8 1406.2,641.6 1406.4,641.5 1406.6,641.5 1406.8,641.5 1407.0,641.5 1407.2,641.5 1407.4,641.5 1407.6,641.6 1407.8,641.7 1408.0,641.9 1408.2,642.0 1408.4,642.1 1408.6,642.3 1408.8,642.4 1409.0,642.5 1409.2,642.7 1409.4,642.7 1409.6,642.8 1409.8,642.9 1410.0,642.9 1410.2,643.0 1410.4,643.0 1410.6,643.0 1410.8,642.9 1411.0,642.9 1411.2,642.8 1411.4,642.7 1411.6,642.6 1411.8,642.5 1412.0,642.5 1412.2,642.5 1412.4,642.5 1412.6,642.5 1412.8,642.6 1413.0,642.7 1413.2,642.8 1413.4,642.9 1413.6,643.1 1413.8,643.2 1414.3,643.6 1414.8,644.0 1415.3,644.2 1415.8,644.3 1416.3,644.2 1416.8,644.1 1417.3,643.9 1417.8,643.8 1418.3,643.8 1418.8,644.0 1419.3,644.3 1419.8,644.7 1421.3,644.9 1422.8,644.4 1424.3,644.1 1425.8,643.5 1427.3,644.0 1428.8,644.4 1430.3,643.9 1431.8,644.0 1433.3,644.9 1434.8,644.7 1436.3,644.2 1437.8,643.5 1439.3,643.2 1440.8,644.1 1442.3,644.5 1443.8,645.1 1445.3,645.0 1446.8,644.8 1448.3,644.4 1449.8,644.3 1451.3,644.9 1452.8,645.0 1454.3,645.0 1455.8,645.3 1457.3,645.6 1458.8,645.4 1460.3,645.3 1461.8,645.1 1463.3,644.8 1464.8,644.4 1466.3,644.7 1467.8,645.1 1469.3,645.1 1470.8,645.1 1472.3,645.0 1473.8,645.1 1475.3,645.3 1476.8,644.7 1478.3,644.4 1479.8,645.2 1480.3,645.4 1480.8,645.4 1481.3,645.3 1481.8,645.2 1482.3,645.1 1482.8,645.1 1483.3,645.1 1483.8,645.1 1484.3,645.1 1484.8,645.2 1485.3,645.2 1485.8,645.2 1486.0,645.2 1486.2,645.1 1486.4,645.1 1486.6,645.0 1486.8,645.0 1487.0,644.9 1487.2,644.8 1487.4,644.7 1487.6,644.5 1487.8,644.3 1488.0,644.1 1488.2,643.7 1488.4,643.2 1488.6,642.5 1488.8,641.7 1489.0,640.6 1489.2,639.4 1489.4,638.0 1489.6,636.5 1489.8,634.9 1490.0,633.4 1490.2,632.1 1490.4,631.2 1490.6,630.6 1490.8,630.6 1491.0,631.1 1491.2,632.1 1491.4,633.4 1491.6,634.9 1491.8,636.4 1492.0,638.0 1492.2,639.4 1492.4,640.6 1492.6,641.6 1492.8,642.4 1493.0,643.0 1493.2,643.3 1493.4,643.4 1493.6,643.4 1493.8,643.2 1494.0,642.8 1494.2,642.3 1494.4,641.7 1494.6,641.0 1494.8,640.3 1495.0,639.7 1495.2,639.1 1495.4,638.7 1495.6,638.4 1495.8,638.5 1496.0,638.7 1496.2,639.2 1496.4,639.8 1496.6,640.6 1496.8,641.3 1497.0,642.0 1497.2,642.6 1497.4,643.2 1497.6,643.6 1497.8,644.0 1498.3,644.5 1498.8,644.8 1499.3,645.0 1499.8,645.2 1500.3,645.3 1500.8,645.5 1501.3,645.5 1501.8,645.5 1502.3,645.3 1502.8,645.2 1503.3,645.0 1503.8,644.9 1505.3,645.4 1506.8,645.7 1508.3,645.6 1509.8,645.4 1511.3,644.8 1512.8,645.4 1514.3,646.3 1515.8,645.6 1517.3,645.2 1518.8,645.6 1520.3,645.6 1521.8,645.0 1523.3,644.9 1524.8,644.7 1526.3,645.8 1527.8,646.2 1529.3,645.2 1530.8,645.0 1532.3,644.7 1533.8,645.3 1535.3,645.9 1536.8,645.3 1538.3,645.3 1539.8,645.9 1541.3,646.5 1542.8,647.3 1544.3,646.6 1544.8,646.2 1545.3,646.0 1545.8,646.0 1546.3,646.1 1546.8,646.3 1547.3,646.4 1547.8,646.5 1548.3,646.5 1548.8,646.5 1549.3,646.6 1549.5,646.6 1549.7,646.6 1549.9,646.6 1550.1,646.6 1550.3,646.6 1550.5,646.6 1550.7,646.5 1550.9,646.5 1551.1,646.4 1551.3,646.3 1551.5,646.1 1551.7,645.9 1551.9,645.6 1552.1,645.3 1552.3,644.9 1552.5,644.4 1552.7,643.9 1552.9,643.3 1553.1,642.8 1553.3,642.3 1553.5,641.9 1553.7,641.7 1553.9,641.6 1554.1,641.6 1554.3,641.9 1554.5,642.2 1554.7,642.7 1554.9,643.2 1555.1,643.7 1555.3,644.2 1555.5,644.6 1555.7,645.0 1555.9,645.3 1556.1,645.6 1556.3,645.8 1556.5,646.0 1556.7,646.1 1556.9,646.2 1557.1,646.2 1557.3,646.3 1557.5,646.2 1557.7,646.1 1557.9,646.0 1558.1,645.8 1558.3,645.6 1558.5,645.4 1558.7,645.2 1558.9,645.0 1559.1,644.8 1559.3,644.8 1559.5,644.8 1559.7,644.8 1559.9,644.9 1560.1,645.1 1560.3,645.3 1560.5,645.4 1560.7,645.6 1560.9,645.8 1561.4,646.2 1561.9,646.4 1562.4,646.6 1562.9,646.7 1563.4,646.8 1563.9,646.9 1564.4,646.9 1564.9,646.8 1565.4,646.8 1565.9,646.8 1566.4,646.8 1566.9,646.7 1568.4,646.1 1569.9,646.3 1571.4,647.0 1572.9,647.0 1574.4,647.0 1575.9,647.3 1577.4,647.4 1578.9,647.4 1580.4,647.7 1581.9,648.1 1583.4,646.8 1584.9,646.0 1586.4,646.7 1587.9,646.9 1589.4,647.0 1590.9,646.9 1592.4,646.8 1593.9,647.4 1595.4,647.6 1596.9,647.4 1598.4,647.5 1599.9,647.6 1601.4,647.1 1602.9,646.6 1604.4,646.9 1605.9,647.1 1607.4,647.6 1608.9,647.6 1610.4,647.5 1611.9,647.5 1613.4,647.5 1614.9,647.7 1616.4,647.8 1617.9,647.8 1619.4,647.6 1620.9,647.4 1622.4,648.4 1623.9,649.0 1625.4,648.0 1626.9,647.9 1628.4,648.6 1629.9,648.6 1631.4,648.7 1632.9,648.8 1634.4,648.9 1634.5,648.8"/>
<use href="#cb" stroke="#00f" stroke-width="4.6" transform="translate(0.45,0.45)"/>
<path id="cm" stroke="#f0f" d="M37.5,374.0 39.0,374.1 40.5,374.3 42.0,374.2 43.5,374.2 45.0,374.3 46.5,374.3 48.0,374.3 49.5,374.3 51.0,374.4 52.5,374.6 54.0,374.8 55.5,375.0 57.0,375.0 58.5,374.9 60.0,375.1 61.5,375.2 63.0,375.2 64.5,375.1 66.0,375.2 67.5,375.3 69.0,375.3 70.5,375.4 72.0,375.2 73.5,375.1 75.0,375.4 76.5,375.8 78.0,375.8 79.5,375.8 81.0,375.9 82.5,375.9 84.0,375.7 85.5,375.6 87.0,375.6 88.5,375.7 90.0,375.8 91.5,376.0 93.0,376.1 94.5,376.2 96.0,376.3 97.5,376.5 99.0,376.5 100.5,376.5 102.0,376.6 103.5,376.8 105.0,376.7 106.5,376.6 108.0,376.8 109.5,377.0 111.0,377.0 112.5,377.1 114.0,377.0 115.5,377.0 117.0,377.3 118.5,377.6 120.0,377.6 121.5,377.5 123.0,377.6 124.5,377.7 126.0,377.6 127.5,377.4 129.0,377.5 130.5,377.5 132.0,377.6 133.5,377.7 135.0,377.8 136.5,377.8 138.0,378.0 139.5,378.1 141.0,378.1 142.5,378.1 144.0,378.1 145.5,378.1 147.0,378.1 148.5,378.1 150.0,378.2 151.5,378.3 153.0,378.5 154.5,378.8 156.0,378.6 157.5,378.4 159.0,378.6 160.5,378.7 162.0,378.8 163.5,378.9 165.0,378.7 166.5,378.6 168.0,378.8 169.5,379.0 171.0,379.2 172.5,379.4 174.0,379.1 175.5,378.8 177.0,379.0 178.5,379.2 180.0,379.3 181.5,379.4 183.0,379.4 184.5,379.3 186.0,379.5 187.5,379.7 189.0,379.7 190.5,379.7 192.0,379.6 193.5,379.5 195.0,379.8 196.5,380.1 198.0,380.1 199.5,380.2 201.0,380.2 202.5,380.3 204.0,380.4 205.5,380.5 207.0,380.4 207.5,380.3 208.0,380.3 208.5,380.2 209.0,380.2 209.5,380.2 210.0,380.2 210.5,380.2 211.0,380.1 211.5,380.1 212.0,380.0 212.5,379.9 212.7,379.8 212.9,379.8 213.1,379.7 213.3,379.6 213.5,379.5 213.7,379.4 213.9,379.3 214.1,379.1 214.3,378.9 214.5,378.5 214.7,377.9 214.9,377.0 215.1,375.5 215.3,373.3 215.5,370.1 215.7,365.7 215.9,360.2 216.1,353.6 216.3,346.4 216.5,339.0 216.7,332.3 216.9,327.2 217.1,324.2 217.3,323.7 217.5,325.5 217.7,329.2 217.9,334.3 218.1,340.4 218.3,347.0 218.5,353.5 218.7,359.5 218.9,364.7 219.1,368.9 219.3,372.3 219.5,374.7 219.7,376.5 219.9,377.7 220.1,378.4 220.3,378.9 220.5,379.3 220.7,379.5 220.9,379.6 221.1,379.7 221.3,379.8 221.5,379.9 221.7,379.9 221.9,380.0 222.1,380.0 222.3,380.1 222.5,380.1 222.7,380.1 222.9,380.2 223.1,380.2 223.3,380.2 223.5,380.3 223.7,380.3 223.9,380.3 224.1,380.3 224.6,380.3 225.1,380.3 225.6,380.3 226.1,380.3 226.6,380.3 227.1,380.3 227.6,380.4 228.1,380.4 228.6,380.4 229.1,380.4 229.6,380.5 230.1,380.5 231.6,380.6 233.1,380.7 234.6,381.0 236.1,381.1 237.6,380.6 239.1,380.5 240.6,380.6 242.1,380.7 243.6,381.0 245.1,381.1 246.6,381.4 248.1,381.4 249.6,381.3 251.1,381.3 252.6,380.9 254.1,380.8 255.6,380.8 257.1,380.8 258.6,381.3 260.1,381.4 261.6,381.3 263.1,381.2 264.6,381.2 266.1,381.2 266.6,381.3 267.1,381.4 267.6,381.5 268.1,381.6 268.6,381.6 269.1,381.6 269.6,381.6 270.1,381.6 270.6,381.6 271.1,381.6 271.3,381.6 271.5,381.6 271.7,381.6 271.9,381.5 272.1,381.5 272.3,381.4 272.5,381.3 272.7,381.3 272.9,381.2 273.1,381.0 273.3,380.9 273.5,380.7 273.7,380.6 273.9,380.4 274.1,380.2 274.3,380.0 274.5,379.8 274.7,379.7 274.9,379.5 275.1,379.4 275.3,379.3 275.5,379.2 275.7,379.2 275.9,379.2 276.1,379.3 276.3,379.4 276.5,379.5 276.7,379.7 276.9,379.9 277.1,380.0 277.3,380.2 277.5,380.4 277.7,380.6 277.9,380.7 278.1,380.9 278.3,381.0 278.5,381.1 278.7,381.2 278.9,381.3 279.1,381.3 279.3,381.4 279.5,381.4 279.7,381.4 279.9,381.5 280.1,381.5 280.3,381.5 280.5,381.5 280.7,381.5 280.9,381.5 281.1,381.5 281.3,381.6 281.5,381.6 281.7,381.6 281.9,381.6 282.1,381.7 282.3,381.7 282.5,381.7 282.7,381.8 282.9,381.8 283.4,381.8 283.9,381.8 284.4,381.8 284.9,381.7 285.4,381.7 285.9,381.6 286.4,381.6 286.9,381.6 287.4,381.6 287.9,381.6 288.4,381.6 288.9,381.6 290.4,381.6 291.9,381.6 293.4,381.5 294.9,381.2 296.4,381.3 297.9,381.7 299.4,381.8 300.9,381.7 302.4,381.7 303.9,381.7 305.4,381.5 306.9,381.2 308.4,381.2 309.9,381.4 311.4,381.5 312.9,381.7 314.4,381.6 315.9,381.2 317.4,381.3 318.9,381.5 320.4,381.6 321.9,381.8 323.4,381.7 324.9,381.4 326.4,381.5 327.9,381.9 329.4,381.9 330.9,381.8 332.4,381.7 333.9,381.6 335.4,381.6 336.9,381.7 338.4,381.7 339.9,381.8 341.4,381.8 342.9,381.7 344.4,381.7 345.9,381.9 347.4,381.8 348.9,381.6 350.4,381.6 351.9,381.6 353.4,381.7 354.9,381.9 356.4,381.9 357.9,381.7 359.4,381.7 360.9,381.5 362.4,381.6 363.9,381.9 365.4,382.0 366.9,382.0 368.4,382.0 369.9,381.7 371.4,381.6 372.9,381.5 374.4,381.5 375.9,381.7 377.4,381.7 378.9,381.7 380.4,381.7 381.9,381.7 383.4,381.8 384.9,382.1 386.4,382.0 387.9,381.6 389.4,381.7 390.9,382.0 392.4,382.0 393.9,381.6 395.4,381.6 396.9,381.6 398.4,381.7 399.9,381.9 401.4,382.0 402.9,382.1 404.4,382.1 405.9,382.0 407.4,382.0 408.9,381.9 410.4,381.9 411.9,381.9 413.4,381.9 414.9,381.9 416.4,381.9 417.9,382.0 419.4,382.0 420.9,381.9 422.4,381.9 423.9,381.9 425.4,382.0 426.9,382.0 428.4,382.0 429.9,381.9 431.4,381.9 432.9,382.0 434.4,382.0 435.9,382.0 437.4,382.1 438.9,382.3 440.4,382.2 441.9,381.9 443.4,381.9 444.9,381.7 446.4,381.7 447.9,381.6 449.4,381.6 450.9,381.6 452.4,381.5 452.9,381.5 453.4,381.5 453.9,381.5 454.4,381.4 454.9,381.3 455.4,381.2 455.9,381.0 456.4,380.8 456.9,380.5 457.4,380.2 457.9,379.9 458.4,379.6 458.6,379.4 458.8,379.2 459.0,378.9 459.2,378.7 459.4,378.3 459.6,378.0 459.8,377.4 460.0,376.7 460.2,375.7 460.4,374.1 460.6,371.5 460.8,367.5 461.0,361.1 461.2,351.5 461.4,337.5 461.6,318.2 461.8,293.2 462.0,262.7 462.2,227.9 462.4,191.3 462.6,156.0 462.8,126.1 463.0,105.2 463.2,95.8 463.4,97.5 463.6,107.8 463.8,123.2 464.0,140.5 464.2,157.9 464.4,175.0 464.6,192.5 464.8,211.3 465.0,232.0 465.2,254.0 465.4,276.2 465.6,297.4 465.8,316.6 466.0,332.9 466.2,346.1 466.4,356.3 466.6,363.6 466.8,368.7 467.0,372.2 467.2,374.4 467.4,375.9 467.6,376.8 467.8,377.5 468.0,378.0 468.2,378.4 468.4,378.7 468.6,379.0 468.8,379.2 469.0,379.4 469.2,379.6 469.4,379.8 469.6,379.9 469.8,380.0 470.0,380.2 470.2,380.3 470.7,380.5 471.2,380.8 471.7,381.0 472.2,381.2 472.7,381.3 473.2,381.3 473.7,381.4 474.2,381.5 474.7,381.6 475.2,381.6 475.7,381.6 476.2,381.7 477.7,381.7 479.2,381.8 480.7,381.7 482.2,381.8 483.7,381.9 485.2,382.0 486.7,382.0 488.2,381.9 489.7,381.8 491.2,381.9 492.7,382.3 494.2,382.4 495.7,382.1 497.2,382.0 498.7,381.9 500.2,381.8 501.7,381.9 503.2,381.9 504.7,381.9 506.2,381.9 507.7,381.9 509.2,381.9 510.7,381.5 512.2,381.4 513.7,381.8 515.2,381.9 516.7,382.1 518.2,382.1 519.7,381.8 521.2,381.8 522.7,381.9 524.2,382.0 525.7,382.1 527.2,382.2 528.7,382.2 530.2,382.2 531.7,382.3 533.2,382.2 534.7,381.7 536.2,381.6 537.7,381.9 539.2,381.9 540.7,381.9 542.2,381.9 543.7,382.1 545.2,382.1 546.7,382.2 548.2,382.1 549.7,381.5 551.2,381.5 552.7,382.1 554.2,382.1 555.7,381.8 557.2,381.7 558.7,382.0 560.2,382.0 561.7,381.7 563.2,381.6 564.7,381.9 565.2,381.9 565.7,381.9 566.2,381.9 566.7,382.0 567.2,382.0 567.7,382.0 568.2,382.0 568.7,382.0 569.2,381.9 569.7,381.8 570.2,381.7 570.4,381.6 570.6,381.6 570.8,381.5 571.0,381.4 571.2,381.3 571.4,381.3 571.6,381.2 571.8,381.0 572.0,380.8 572.2,380.4 572.4,379.9 572.6,379.0 572.8,377.7 573.0,375.7 573.2,373.0 573.4,369.5 573.6,365.0 573.8,359.8 574.0,354.2 574.2,348.7 574.4,343.8 574.6,340.1 574.8,338.2 575.0,338.2 575.2,339.8 575.4,342.4 575.6,345.4 575.8,348.2 576.0,350.6 576.2,352.4 576.4,354.0 576.6,355.6 576.8,357.5 577.0,359.9 577.2,362.7 577.4,365.8 577.6,368.9 577.8,371.7 578.0,374.3 578.2,376.3 578.4,378.0 578.6,379.2 578.8,380.0 579.0,380.6 579.2,380.9 579.4,381.2 579.6,381.3 579.8,381.4 580.0,381.5 580.2,381.5 580.4,381.6 580.6,381.6 580.8,381.6 581.0,381.7 581.2,381.7 581.4,381.7 581.6,381.7 581.8,381.7 582.3,381.8 582.8,381.8 583.3,381.8 583.8,381.8 584.3,381.9 584.8,382.0 585.3,382.1 585.8,382.2 586.3,382.2 586.8,382.2 587.3,382.2 587.8,382.2 589.3,382.2 590.8,382.1 592.3,381.9 593.8,382.2 595.3,382.5 596.8,382.2 598.3,381.7 598.8,381.7 599.3,381.8 599.8,381.9 600.3,382.0 600.8,382.1 601.3,382.1 601.8,382.1 602.3,382.1 602.8,382.0 603.3,381.9 603.8,381.8 604.3,381.8 604.5,381.8 604.7,381.8 604.9,381.8 605.1,381.7 605.3,381.7 605.5,381.7 605.7,381.7 605.9,381.7 606.1,381.6 606.3,381.5 606.5,381.4 606.7,381.2 606.9,380.9 607.1,380.4 607.3,379.7 607.5,378.7 607.7,377.4 607.9,375.8 608.1,373.9 608.3,371.9 608.5,369.9 608.7,368.1 608.9,366.8 609.1,366.2 609.3,366.3 609.5,366.9 609.7,367.9 609.9,369.1 610.1,370.1 610.3,371.0 610.5,371.6 610.7,372.1 610.9,372.5 611.1,373.0 611.3,373.7 611.5,374.6 611.7,375.6 611.9,376.7 612.1,377.8 612.3,378.8 612.5,379.6 612.7,380.3 612.9,380.8 613.1,381.1 613.3,381.4 613.5,381.6 613.7,381.7 613.9,381.7 614.1,381.8 614.3,381.8 614.5,381.9 614.7,381.9 614.9,381.9 615.1,381.9 615.3,382.0 615.5,382.0 615.7,382.0 615.9,382.0 616.1,382.0 616.6,382.0 617.1,382.0 617.6,381.9 618.1,381.8 618.6,381.7 619.1,381.6 619.6,381.6 620.1,381.6 620.6,381.6 621.1,381.6 621.6,381.6 622.1,381.6 623.6,381.8 625.1,382.1 626.6,382.0 628.1,381.8 629.6,381.8 631.1,381.8 632.6,381.7 634.1,381.7 635.6,381.9 637.1,382.2 638.6,382.2 640.1,382.2 641.6,382.2 643.1,382.3 644.6,382.2 646.1,381.8 647.6,381.9 649.1,382.0 650.6,381.9 652.1,381.8 653.6,381.9 655.1,382.1 656.6,382.2 658.1,382.3 659.6,382.2 661.1,381.8 662.6,382.0 664.1,382.3 665.6,382.3 667.1,382.2 668.6,382.1 670.1,382.0 671.6,381.8 673.1,381.6 674.6,381.8 676.1,382.3 677.6,382.2 679.1,382.0 680.6,381.9 682.1,381.9 683.6,381.9 685.1,382.1 686.6,382.1 688.1,382.1 689.6,382.2 691.1,382.3 692.6,382.1 694.1,381.8 695.6,381.9 697.1,382.2 698.6,382.3 700.1,382.3 701.6,382.3 703.1,382.3 704.6,382.2 706.1,381.9 707.6,381.9 709.1,381.8 710.6,381.9 712.1,382.2 713.6,382.1 715.1,382.0 716.6,381.9 718.1,381.9 719.6,382.0 721.1,382.2 722.6,382.0 724.1,381.7 724.6,381.7 725.1,381.6 725.6,381.5 726.1,381.4 726.6,381.2 727.1,381.1 727.6,381.0 728.1,381.0 728.6,381.0 729.1,381.0 729.6,381.0 730.1,380.9 730.3,380.8 730.5,380.8 730.7,380.6 730.9,380.5 731.1,380.3 731.3,380.1 731.5,379.8 731.7,379.4 731.9,378.7 732.1,377.8 732.3,376.3 732.5,373.9 732.7,370.5 732.9,365.5 733.1,358.8 733.3,350.0 733.5,339.4 733.7,327.2 733.9,314.2 734.1,301.6 734.3,290.8 734.5,283.2 734.7,279.8 734.9,281.2 735.1,286.6 735.3,294.6 735.5,303.5 735.7,311.9 735.9,318.5 736.1,323.0 736.3,325.2 736.5,325.9 736.7,325.8 736.9,326.0 737.1,327.6 737.3,330.8 737.5,335.7 737.7,341.9 737.9,348.5 738.1,355.2 738.3,361.3 738.5,366.5 738.7,370.7 738.9,373.9 739.1,376.3 739.3,377.9 739.5,379.0 739.7,379.7 739.9,380.1 740.1,380.4 740.3,380.6 740.5,380.8 740.7,380.9 740.9,381.0 741.1,381.0 741.3,381.1 741.5,381.1 741.7,381.1 742.2,381.2 742.7,381.3 743.2,381.4 743.7,381.5 744.2,381.6 744.7,381.6 745.2,381.7 745.7,381.7 746.2,381.8 746.7,381.8 747.2,381.9 747.7,382.0 749.2,382.0 750.7,381.9 752.2,382.0 753.7,382.2 755.2,382.2 756.7,382.0 758.2,382.0 759.7,382.1 761.2,382.2 762.7,382.3 764.2,382.3 765.7,382.3 767.2,382.3 768.7,381.9 770.2,381.9 771.7,382.1 773.2,382.1 774.7,381.7 776.2,381.6 777.7,381.7 779.2,381.7 780.7,381.6 782.2,381.6 783.7,382.1 785.2,382.2 786.7,381.8 788.2,381.8 789.7,381.9 791.2,382.0 792.7,381.9 794.2,381.9 795.7,382.0 797.2,382.0 798.7,381.9 800.2,381.9 801.7,382.0 803.2,382.1 804.7,382.3 806.2,382.3 807.7,382.0 809.2,382.0 809.7,382.0 810.2,382.0 810.7,382.0 811.2,382.0 811.7,382.0 812.2,382.0 812.7,382.1 813.2,382.1 813.7,382.1 814.2,382.1 814.7,382.1 815.2,382.0 815.4,382.0 815.6,381.9 815.8,381.9 816.0,381.8 816.2,381.8 816.4,381.7 816.6,381.6 816.8,381.5 817.0,381.4 817.2,381.2 817.4,380.8 817.6,380.4 817.8,379.7 818.0,378.7 818.2,377.3 818.4,375.6 818.6,373.4 818.8,371.0 819.0,368.5 819.2,366.1 819.4,364.0 819.6,362.5 819.8,361.9 820.0,362.2 820.2,363.4 820.4,365.1 820.6,367.0 820.8,368.8 821.0,370.3 821.2,371.4 821.4,371.9 821.6,372.0 821.8,371.8 822.0,371.5 822.2,371.3 822.4,371.3 822.6,371.8 822.8,372.6 823.0,373.7 823.2,374.9 823.4,376.2 823.6,377.4 823.8,378.5 824.0,379.4 824.2,380.1 824.4,380.7 824.6,381.1 824.8,381.4 825.0,381.6 825.2,381.7 825.4,381.8 825.6,381.9 825.8,381.9 826.0,382.0 826.2,382.0 826.4,382.0 826.6,382.1 826.8,382.1 827.3,382.0 827.8,381.9 828.3,381.7 828.8,381.6 829.3,381.6 829.8,381.6 830.3,381.6 830.8,381.7 831.3,381.7 831.8,381.8 832.3,381.8 832.8,381.8 834.3,382.1 835.8,382.2 837.3,382.2 838.8,382.2 840.3,382.0 841.8,382.0 843.3,382.1 844.8,382.2 846.3,382.1 847.8,382.0 849.3,381.8 850.8,381.7 852.3,381.7 853.8,381.7 855.3,381.8 856.8,381.9 858.3,382.1 859.8,382.2 861.3,382.0 862.8,381.9 864.3,381.8 865.8,381.8 867.3,381.8 868.8,381.8 870.3,381.7 871.8,381.6 873.3,381.8 874.8,381.9 876.3,381.8 877.8,381.7 879.3,381.9 880.8,382.0 882.3,381.6 883.8,381.4 885.3,381.8 886.8,382.0 888.3,381.8 889.8,381.8 891.3,381.6 892.8,381.5 894.3,381.8 895.8,382.0 897.3,381.9 898.8,381.8 900.3,381.5 901.8,381.4 903.3,381.6 904.8,381.7 906.3,381.8 907.8,381.9 909.3,381.8 910.8,381.7 912.3,381.9 913.8,382.0 915.3,382.0 916.8,382.0 918.3,382.0 919.8,381.9 921.3,381.9 922.8,381.9 924.3,382.0 925.8,382.0 927.3,381.9 928.8,381.9 930.3,381.8 931.8,381.8 933.3,381.4 934.8,381.2 936.3,381.6 937.8,381.8 939.3,381.8 940.8,381.8 941.3,381.7 941.8,381.6 942.3,381.4 942.8,381.3 943.3,381.2 943.8,381.2 944.3,381.1 944.8,381.0 945.3,380.9 945.8,380.7 946.3,380.6 946.8,380.4 947.0,380.3 947.2,380.2 947.4,380.1 947.6,380.0 947.8,379.8 948.0,379.6 948.2,379.3 948.4,378.9 948.6,378.2 948.8,377.1 949.0,375.3 949.2,372.6 949.4,368.5 949.6,362.6 949.8,354.5 950.0,344.0 950.2,331.0 950.4,315.9 950.6,299.5 950.8,283.0 951.0,268.0 951.2,256.5 951.4,250.0 951.6,249.5 951.8,255.1 952.0,265.5 952.2,278.9 952.4,293.2 952.6,306.6 952.8,317.7 953.0,325.4 953.2,329.5 953.4,330.2 953.6,328.0 953.8,323.9 954.0,319.2 954.2,315.3 954.4,313.2 954.6,313.7 954.8,317.1 955.0,323.0 955.2,330.5 955.4,338.9 955.6,347.2 955.8,354.8 956.0,361.5 956.2,366.9 956.4,371.1 956.6,374.2 956.8,376.4 957.0,377.9 957.2,379.0 957.4,379.6 957.6,380.1 957.8,380.4 958.0,380.6 958.2,380.8 958.4,380.9 958.6,381.0 959.1,381.2 959.6,381.2 960.1,381.1 960.6,381.0 961.1,381.0 961.6,381.0 962.1,381.1 962.6,381.2 963.1,381.3 963.6,381.5 964.1,381.5 964.6,381.6 966.1,381.8 967.6,381.9 969.1,381.7 970.6,381.5 972.1,381.6 973.6,381.7 975.1,381.8 976.6,381.8 978.1,381.6 979.6,381.4 981.1,381.5 982.6,381.6 984.1,381.6 985.6,381.7 987.1,381.7 988.6,381.8 990.1,381.7 991.6,381.6 993.1,381.6 994.6,381.5 996.1,381.4 997.6,381.4 999.1,381.4 1000.6,381.5 1002.1,381.6 1003.6,381.7 1005.1,381.6 1006.6,381.5 1008.1,381.4 1009.6,381.3 1011.1,381.3 1012.6,381.3 1014.1,381.7 1015.6,382.0 1016.1,382.0 1016.6,381.9 1017.1,381.8 1017.6,381.7 1018.1,381.6 1018.6,381.6 1019.1,381.6 1019.6,381.5 1020.1,381.5 1020.6,381.4 1021.1,381.4 1021.3,381.4 1021.5,381.3 1021.7,381.3 1021.9,381.3 1022.1,381.2 1022.3,381.1 1022.5,381.0 1022.7,380.9 1022.9,380.7 1023.1,380.5 1023.3,380.2 1023.5,379.7 1023.7,379.1 1023.9,378.3 1024.1,377.2 1024.3,375.8 1024.5,374.1 1024.7,372.2 1024.9,370.1 1025.1,368.1 1025.3,366.3 1025.5,364.9 1025.7,364.1 1025.9,364.2 1026.1,365.0 1026.3,366.4 1026.5,368.2 1026.7,370.2 1026.9,372.1 1027.1,373.7 1027.3,374.9 1027.5,375.6 1027.7,375.9 1027.9,375.7 1028.1,375.2 1028.3,374.5 1028.5,373.8 1028.7,373.2 1028.9,372.8 1029.1,372.7 1029.3,373.1 1029.5,373.7 1029.7,374.6 1029.9,375.7 1030.1,376.7 1030.3,377.7 1030.5,378.6 1030.7,379.3 1030.9,379.9 1031.1,380.4 1031.3,380.7 1031.5,380.9 1031.7,381.1 1031.9,381.2 1032.1,381.3 1032.3,381.4 1032.5,381.4 1032.7,381.4 1032.9,381.5 1033.4,381.5 1033.9,381.5 1034.4,381.5 1034.9,381.4 1035.4,381.4 1035.9,381.3 1036.4,381.3 1036.9,381.3 1037.4,381.3 1037.9,381.3 1038.4,381.2 1038.9,381.2 1040.4,381.2 1041.9,381.3 1043.4,381.2 1044.9,380.8 1046.4,380.9 1047.9,381.3 1049.4,381.3 1050.9,381.2 1052.4,381.1 1053.9,381.0 1055.4,381.0 1056.9,381.3 1058.4,381.4 1059.9,381.4 1061.4,381.3 1062.9,380.8 1064.4,380.7 1065.9,380.8 1067.4,380.9 1068.9,381.0 1070.4,381.0 1071.9,381.0 1073.4,381.0 1074.9,380.9 1076.4,380.8 1077.9,380.7 1079.4,380.8 1080.9,381.3 1082.4,381.3 1083.9,381.1 1085.4,381.0 1086.9,380.6 1088.4,380.5 1089.9,380.5 1091.4,380.6 1092.9,381.1 1094.4,381.1 1095.9,381.0 1097.4,381.0 1098.9,381.1 1100.4,381.1 1101.9,380.9 1103.4,380.8 1104.9,380.5 1106.4,380.5 1107.9,380.7 1109.4,380.6 1110.9,380.2 1112.4,380.2 1113.9,380.4 1115.4,380.4 1116.9,380.5 1118.4,380.5 1119.9,380.6 1121.4,380.5 1122.9,380.3 1124.4,380.3 1125.9,380.4 1127.4,380.4 1128.9,380.5 1130.4,380.5 1131.9,380.4 1133.4,380.4 1133.9,380.4 1134.4,380.4 1134.9,380.4 1135.4,380.4 1135.9,380.3 1136.4,380.3 1136.9,380.2 1137.4,380.2 1137.9,380.1 1138.4,380.0 1138.9,379.9 1139.4,379.8 1139.6,379.8 1139.8,379.7 1140.0,379.6 1140.2,379.6 1140.4,379.5 1140.6,379.3 1140.8,379.2 1141.0,379.0 1141.2,378.7 1141.4,378.2 1141.6,377.5 1141.8,376.4 1142.0,374.8 1142.2,372.5 1142.4,369.4 1142.6,365.3 1142.8,360.2 1143.0,354.1 1143.2,347.4 1143.4,340.5 1143.6,333.9 1143.8,328.5 1144.0,324.8 1144.2,323.4 1144.4,324.7 1144.6,328.2 1144.8,333.6 1145.0,339.9 1145.2,346.5 1145.4,352.8 1145.6,358.1 1145.8,362.1 1146.0,364.8 1146.2,366.0 1146.4,365.8 1146.6,364.5 1146.8,362.3 1147.0,359.5 1147.2,356.6 1147.4,354.0 1147.6,352.0 1147.8,351.2 1148.0,351.5 1148.2,353.1 1148.4,355.7 1148.6,358.9 1148.8,362.4 1149.0,365.8 1149.2,369.0 1149.4,371.7 1149.6,373.9 1149.8,375.6 1150.0,376.8 1150.2,377.7 1150.4,378.3 1150.6,378.8 1150.8,379.0 1151.0,379.2 1151.2,379.3 1151.7,379.5 1152.2,379.6 1152.7,379.7 1153.2,379.8 1153.7,379.8 1154.2,379.9 1154.7,379.9 1155.2,380.0 1155.7,380.0 1156.2,380.0 1156.7,380.1 1157.2,380.1 1158.7,380.1 1160.2,380.1 1161.7,380.1 1163.2,380.1 1164.7,380.1 1166.2,380.1 1167.7,380.1 1169.2,380.1 1170.7,380.0 1172.2,380.0 1173.7,379.8 1175.2,379.8 1176.7,380.0 1178.2,380.1 1179.7,380.2 1181.2,380.2 1182.7,380.1 1184.2,380.0 1185.7,379.9 1187.2,379.9 1188.7,379.9 1190.2,379.9 1191.7,379.7 1193.2,379.5 1194.7,379.4 1196.2,379.4 1197.7,379.7 1199.2,379.7 1200.7,379.5 1202.2,379.5 1202.7,379.5 1203.2,379.6 1203.7,379.7 1204.2,379.7 1204.7,379.7 1205.2,379.6 1205.7,379.5 1206.2,379.4 1206.7,379.3 1207.2,379.2 1207.4,379.2 1207.6,379.2 1207.8,379.1 1208.0,379.1 1208.2,379.0 1208.4,379.0 1208.6,378.9 1208.8,378.7 1209.0,378.6 1209.2,378.3 1209.4,377.9 1209.6,377.4 1209.8,376.7 1210.0,375.8 1210.2,374.6 1210.4,373.1 1210.6,371.3 1210.8,369.4 1211.0,367.5 1211.2,365.6 1211.4,364.1 1211.6,363.1 1211.8,362.7 1212.0,363.1 1212.2,364.1 1212.4,365.7 1212.6,367.6 1212.8,369.5 1213.0,371.3 1213.2,373.0 1213.4,374.3 1213.6,375.2 1213.8,375.7 1214.0,375.9 1214.2,375.7 1214.4,375.2 1214.6,374.6 1214.8,373.8 1215.0,373.0 1215.2,372.2 1215.4,371.7 1215.6,371.4 1215.8,371.5 1216.0,371.9 1216.2,372.6 1216.4,373.5 1216.6,374.5 1216.8,375.4 1217.0,376.3 1217.2,377.1 1217.4,377.8 1217.6,378.2 1217.8,378.6 1218.0,378.8 1218.2,379.0 1218.4,379.1 1218.6,379.1 1218.8,379.2 1219.3,379.2 1219.8,379.2 1220.3,379.2 1220.8,379.1 1221.3,379.1 1221.8,379.0 1222.3,379.0 1222.8,379.0 1223.3,379.0 1223.8,379.1 1224.3,379.1 1224.8,379.1 1226.3,379.2 1227.8,379.4 1229.3,379.4 1230.8,379.4 1232.3,379.3 1233.8,379.3 1235.3,379.3 1236.8,379.5 1238.3,379.4 1239.8,379.3 1241.3,379.2 1242.8,379.1 1244.3,379.1 1245.8,379.2 1247.3,379.2 1248.8,379.3 1250.3,379.3 1251.8,379.2 1253.3,379.2 1254.8,379.1 1256.3,379.0 1257.8,378.7 1259.3,378.6 1260.8,378.8 1262.3,378.8 1263.8,378.9 1265.3,378.9 1266.8,378.7 1268.3,378.7 1269.8,378.9 1271.3,378.9 1272.8,378.8 1274.3,378.8 1275.8,378.8 1277.3,378.8 1278.8,378.6 1280.3,378.7 1281.8,379.1 1283.3,379.1 1284.8,378.9 1286.3,378.8 1287.8,378.5 1289.3,378.5 1290.8,378.5 1292.3,378.6 1293.8,379.0 1295.3,378.9 1296.8,378.5 1298.3,378.4 1299.8,378.6 1301.3,378.6 1302.8,378.6 1304.3,378.5 1305.8,378.4 1307.3,378.3 1308.8,378.1 1310.3,378.1 1311.8,378.2 1312.3,378.2 1312.8,378.2 1313.3,378.2 1313.8,378.2 1314.3,378.2 1314.8,378.1 1315.3,378.1 1315.8,378.1 1316.3,378.0 1316.8,378.0 1317.0,377.9 1317.2,377.9 1317.4,377.9 1317.6,377.8 1317.8,377.8 1318.0,377.7 1318.2,377.6 1318.4,377.4 1318.6,377.1 1318.8,376.6 1319.0,376.0 1319.2,374.9 1319.4,373.5 1319.6,371.4 1319.8,368.6 1320.0,365.1 1320.2,360.7 1320.4,355.6 1320.6,350.0 1320.8,344.3 1321.0,338.9 1321.2,334.5 1321.4,331.5 1321.6,330.4 1321.8,331.4 1322.0,334.4 1322.2,338.7 1322.4,344.0 1322.6,349.6 1322.8,355.1 1323.0,359.9 1323.2,364.0 1323.4,367.1 1323.6,369.3 1323.8,370.5 1324.0,370.7 1324.2,370.2 1324.4,368.9 1324.6,366.9 1324.8,364.6 1325.0,361.9 1325.2,359.3 1325.4,356.9 1325.6,355.0 1325.8,354.0 1326.0,354.1 1326.2,355.1 1326.4,357.0 1326.6,359.5 1326.8,362.3 1327.0,365.2 1327.2,367.9 1327.4,370.3 1327.6,372.4 1327.8,374.0 1328.0,375.2 1328.2,376.1 1328.4,376.7 1328.6,377.1 1329.1,377.6 1329.6,377.8 1330.1,377.9 1330.6,378.0 1331.1,378.0 1331.6,378.0 1332.1,378.0 1332.6,378.0 1333.1,378.0 1333.6,378.1 1334.1,378.1 1334.6,378.1 1336.1,378.1 1337.6,378.0 1339.1,378.0 1340.6,378.1 1342.1,378.2 1343.6,378.1 1345.1,377.8 1346.6,377.8 1348.1,377.9 1349.6,377.9 1351.1,378.0 1352.6,377.9 1354.1,377.7 1355.6,377.7 1357.1,377.8 1358.6,377.7 1360.1,377.5 1361.6,377.6 1363.1,377.7 1364.6,377.8 1366.1,378.0 1367.6,378.0 1369.1,378.0 1370.6,377.9 1372.1,377.8 1373.6,377.8 1375.1,377.7 1376.6,377.6 1377.1,377.6 1377.6,377.5 1378.1,377.4 1378.6,377.4 1379.1,377.5 1379.6,377.6 1380.1,377.8 1380.6,377.9 1381.1,378.0 1381.6,378.0 1381.8,378.0 1382.0,378.0 1382.2,378.0 1382.4,377.9 1382.6,377.8 1382.8,377.7 1383.0,377.6 1383.2,377.5 1383.4,377.3 1383.6,377.1 1383.8,376.9 1384.0,376.7 1384.2,376.3 1384.4,376.0 1384.6,375.6 1384.8,375.3 1385.0,374.9 1385.2,374.5 1385.4,374.1 1385.6,373.7 1385.8,373.4 1386.0,373.3 1386.2,373.1 1386.4,373.2 1386.6,373.3 1386.8,373.5 1387.0,373.7 1387.2,374.1 1387.4,374.4 1387.6,374.8 1387.8,375.1 1388.0,375.4 1388.2,375.7 1388.4,375.9 1388.6,376.0 1388.8,376.0 1389.0,376.0 1389.2,376.0 1389.4,375.9 1389.6,375.7 1389.8,375.5 1390.0,375.4 1390.2,375.2 1390.4,375.1 1390.6,375.0 1390.8,375.0 1391.0,375.0 1391.2,375.1 1391.4,375.3 1391.6,375.4 1391.8,375.6 1392.0,375.8 1392.2,376.1 1392.4,376.3 1392.6,376.5 1392.8,376.7 1393.0,376.8 1393.2,377.0 1393.4,377.1 1393.9,377.3 1394.4,377.4 1394.9,377.3 1395.4,377.3 1395.9,377.2 1396.4,377.2 1396.9,377.2 1397.4,377.3 1397.9,377.4 1398.4,377.6 1398.9,377.7 1399.4,377.7 1399.9,377.7 1400.4,377.7 1400.9,377.7 1401.4,377.7 1401.9,377.7 1402.4,377.7 1402.6,377.7 1402.8,377.7 1403.0,377.6 1403.2,377.6 1403.4,377.5 1403.6,377.4 1403.8,377.3 1404.0,377.2 1404.2,377.0 1404.4,376.8 1404.6,376.6 1404.8,376.4 1405.0,376.1 1405.2,375.9 1405.4,375.6 1405.6,375.3 1405.8,374.9 1406.0,374.6 1406.2,374.3 1406.4,374.1 1406.6,373.8 1406.8,373.7 1407.0,373.6 1407.2,373.6 1407.4,373.6 1407.6,373.8 1407.8,374.0 1408.0,374.3 1408.2,374.6 1408.4,374.9 1408.6,375.2 1408.8,375.5 1409.0,375.7 1409.2,376.0 1409.4,376.1 1409.6,376.3 1409.8,376.3 1410.0,376.4 1410.2,376.4 1410.4,376.3 1410.6,376.2 1410.8,376.1 1411.0,376.0 1411.2,375.9 1411.4,375.8 1411.6,375.8 1411.8,375.7 1412.0,375.7 1412.2,375.8 1412.4,375.8 1412.6,375.9 1412.8,376.0 1413.0,376.1 1413.2,376.2 1413.4,376.3 1413.6,376.5 1413.8,376.6 1414.0,376.7 1414.2,376.7 1414.7,376.9 1415.2,377.1 1415.7,377.1 1416.2,377.1 1416.7,377.2 1417.2,377.2 1417.7,377.2 1418.2,377.2 1418.7,377.2 1419.2,377.3 1419.7,377.3 1420.2,377.4 1421.7,377.4 1423.2,377.5 1424.7,377.4 1426.2,377.3 1427.7,377.4 1429.2,377.6 1430.7,377.6 1432.2,377.7 1433.7,377.7 1435.2,377.8 1436.7,377.8 1438.2,377.8 1439.7,377.8 1441.2,378.0 1442.7,377.9 1444.2,377.9 1445.7,377.7 1447.2,377.4 1448.7,377.4 1450.2,377.5 1451.7,377.5 1453.2,377.4 1454.7,377.4 1456.2,377.4 1457.7,377.5 1459.2,377.6 1460.7,377.6 1462.2,377.6 1463.7,377.7 1465.2,377.8 1466.7,377.6 1468.2,377.3 1469.7,377.3 1471.2,377.4 1472.7,377.5 1474.2,377.6 1475.7,377.6 1477.2,377.6 1478.7,377.6 1480.2,377.6 1481.7,377.6 1482.2,377.6 1482.7,377.6 1483.2,377.6 1483.7,377.6 1484.2,377.6 1484.7,377.5 1485.2,377.5 1485.7,377.4 1486.2,377.4 1486.7,377.4 1486.9,377.4 1487.1,377.4 1487.3,377.4 1487.5,377.4 1487.7,377.4 1487.9,377.4 1488.1,377.4 1488.3,377.4 1488.5,377.3 1488.7,377.2 1488.9,377.1 1489.1,376.9 1489.3,376.5 1489.5,376.0 1489.7,375.2 1489.9,374.3 1490.1,373.0 1490.3,371.5 1490.5,369.8 1490.7,367.9 1490.9,366.0 1491.1,364.2 1491.3,362.8 1491.5,361.8 1491.7,361.4 1491.9,361.8 1492.1,362.7 1492.3,364.2 1492.5,365.9 1492.7,367.8 1492.9,369.7 1493.1,371.4 1493.3,372.8 1493.5,374.0 1493.7,374.9 1493.9,375.6 1494.1,376.0 1494.3,376.1 1494.5,376.1 1494.7,375.9 1494.9,375.5 1495.1,375.0 1495.3,374.3 1495.5,373.5 1495.7,372.6 1495.9,371.6 1496.1,370.8 1496.3,370.0 1496.5,369.5 1496.7,369.3 1496.9,369.5 1497.1,370.0 1497.3,370.7 1497.5,371.5 1497.7,372.5 1497.9,373.4 1498.1,374.3 1498.3,375.0 1498.5,375.7 1498.7,376.2 1499.2,376.9 1499.7,377.3 1500.2,377.4 1500.7,377.5 1501.2,377.5 1501.7,377.5 1502.2,377.5 1502.7,377.4 1503.2,377.2 1503.7,377.1 1504.2,377.0 1504.7,377.0 1506.2,377.3 1507.7,377.4 1509.2,377.6 1510.7,377.7 1512.2,377.5 1513.7,377.4 1515.2,377.6 1516.7,377.7 1518.2,377.7 1519.7,377.7 1521.2,377.5 1522.7,377.4 1524.2,377.5 1525.7,377.6 1527.2,377.6 1528.7,377.6 1530.2,377.7 1531.7,377.8 1533.2,377.8 1534.7,377.8 1536.2,377.8 1537.7,377.7 1539.2,377.6 1540.7,377.5 1542.2,377.6 1543.7,377.7 1544.2,377.7 1544.7,377.7 1545.2,377.7 1545.7,377.7 1546.2,377.7 1546.7,377.7 1547.2,377.7 1547.7,377.7 1548.2,377.8 1548.7,377.8 1549.2,377.8 1549.7,377.8 1549.9,377.8 1550.1,377.8 1550.3,377.8 1550.5,377.8 1550.7,377.7 1550.9,377.7 1551.1,377.7 1551.3,377.6 1551.5,377.6 1551.7,377.5 1551.9,377.4 1552.1,377.2 1552.3,377.0 1552.5,376.7 1552.7,376.3 1552.9,375.8 1553.1,375.1 1553.3,374.4 1553.5,373.5 1553.7,372.6 1553.9,371.7 1554.1,370.9 1554.3,370.3 1554.5,370.0 1554.7,370.0 1554.9,370.3 1555.1,370.8 1555.3,371.6 1555.5,372.4 1555.7,373.3 1555.9,374.1 1556.1,374.9 1556.3,375.5 1556.5,376.0 1556.7,376.4 1556.9,376.6 1557.1,376.8 1557.3,376.9 1557.5,376.9 1557.7,376.8 1557.9,376.6 1558.1,376.4 1558.3,376.2 1558.5,375.8 1558.7,375.4 1558.9,375.0 1559.1,374.6 1559.3,374.2 1559.5,373.9 1559.7,373.7 1559.9,373.6 1560.1,373.8 1560.3,374.0 1560.5,374.4 1560.7,374.8 1560.9,375.3 1561.1,375.7 1561.3,376.1 1561.5,376.5 1561.7,376.8 1562.2,377.2 1562.7,377.4 1563.2,377.5 1563.7,377.5 1564.2,377.5 1564.7,377.5 1565.2,377.5 1565.7,377.5 1566.2,377.5 1566.7,377.5 1567.2,377.5 1567.7,377.5 1569.2,377.6 1570.7,377.7 1572.2,377.7 1573.7,377.6 1575.2,377.7 1576.7,377.8 1578.2,377.8 1579.7,377.9 1581.2,377.7 1582.7,377.7 1584.2,378.0 1585.7,378.3 1587.2,377.9 1588.7,377.7 1590.2,377.9 1591.7,378.0 1593.2,377.9 1594.7,377.8 1596.2,377.9 1597.7,378.0 1599.2,377.5 1600.7,377.2 1602.2,377.5 1603.7,377.6 1605.2,377.7 1606.7,377.8 1608.2,377.9 1609.7,377.9 1611.2,378.1 1612.7,378.3 1614.2,378.0 1615.7,377.9 1617.2,378.0 1618.7,378.1 1620.2,378.0 1621.7,378.0 1623.2,378.0 1624.7,378.0 1626.2,377.9 1627.7,377.9 1629.2,377.8 1630.7,377.8 1632.2,377.8 1633.7,377.9 1634.5,377.8"/>
<use href="#cm" stroke="#f0f" stroke-width="4.6" transform="translate(0.45,0.45)"/>
</g>
<g fill="#000">
<rect x="29.4" y="25" width="7.6" height="1296"/>
<rect x="32" y="18" width="1611" height="7"/>
<rect x="1640.3" y="23" width="7.7" height="1319"/>
<rect x="29.4" y="1312" width="1618.6" height="6.6"/>
<rect x="32.2" y="1316" width="7" height="25.8"/>
<rect x="233.2" y="1316" width="7" height="25.8"/>
<rect x="434.2" y="1316" width="7" height="25.8"/>
<rect x="635.2" y="1316" width="7" height="25.8"/>
<rect x="836.2" y="1316" width="7" height="25.8"/>
<rect x="1037.2" y="1316" width="7" height="25.8"/>
<rect x="1238.2" y="1316" width="7" height="25.8"/>
<rect x="1439.2" y="1316" width="7" height="25.8"/>
<rect x="1640.2" y="1316" width="7" height="25.8"/>
<rect x="132.2" y="1316" width="7.5" height="12.7"/>
<rect x="333.2" y="1316" width="7.5" height="12.7"/>
<rect x="534.2" y="1316" width="7.5" height="12.7"/>
<rect x="735.2" y="1316" width="7.5" height="12.7"/>
<rect x="936.2" y="1316" width="7.5" height="12.7"/>
<rect x="1137.2" y="1316" width="7.5" height="12.7"/>
<rect x="1338.2" y="1316" width="7.5" height="12.7"/>
<rect x="1539.2" y="1316" width="7.5" height="12.7"/>
</g>
<g font-family="'Liberation Sans', Arial, sans-serif" fill="#000" shape-rendering="auto">
<text x="7.1 35.6" y="1400.9" font-size="55.62">10</text>
<rect x="10.15" y="1395.34" width="10.80" height="6.9" fill="#fff"/>
<rect x="26.17" y="1395.34" width="10.52" height="6.9" fill="#fff"/>
<text><tspan x="206.6 236.6" y="1400.9" font-size="55.62">20</tspan></text>
<text><tspan x="407.6 437.6" y="1400.9" font-size="55.62">30</tspan></text>
<text><tspan x="608.6 638.6" y="1400.9" font-size="55.62">40</tspan></text>
<text><tspan x="809.6 839.6" y="1400.9" font-size="55.62">50</tspan></text>
<text><tspan x="1010.6 1040.6" y="1400.9" font-size="55.62">60</tspan></text>
<text><tspan x="1211.6 1241.6" y="1400.9" font-size="55.62">70</tspan></text>
<text><tspan x="1412.6 1442.6" y="1400.9" font-size="55.62">80</tspan></text>
<text><tspan x="1613.6 1643.6" y="1400.9" font-size="55.62">90</tspan></text>
<text stroke="#000" stroke-width="0.5"><tspan x="1111.1 1155.6 1211.2 1275.3 1297.1 1345.7" y="259.7" font-size="69.68">BMW-Nd</tspan></text>
<text stroke="#000" stroke-width="0.5"><tspan x="1121.1 1165.6 1221.2 1285.3 1307.2 1352.0" y="546.7" font-size="69.68">BMW-Eu</tspan></text>
<text stroke="#000" stroke-width="0.5"><tspan x="1149.2 1193.7 1249.3" y="851.9" font-size="69.68">BMW</tspan></text>
<text><tspan x="721.3 756.1 785.3 799.8 813.9 843.1 860.2 889.4 903.4 938.2" y="1110.9" font-size="54.08">Pattern Ba</tspan><tspan x="967.3" y="1124.4" font-size="35.98">2</tspan><tspan x="986.1 1029.7 1058.2 1107.5" y="1110.9" font-size="54.08">MgWO</tspan><tspan x="1148.3" y="1124.4" font-size="35.98">6</tspan><tspan x="1167.7 1182.1 1196.1 1233.7 1271.2 1309.2 1323.4 1352.3 1381.2 1410.4 1427.5 1456.4 1485.3 1514.2" y="1110.9" font-size="54.08"> ICDD 070-2023</tspan></text>
<text fill="#f00"><tspan x="514.0 534.3 548.4 583.2 611.7 661.0" y="118.5" font-size="54.08">* BaWO</tspan><tspan x="701.8" y="132.7" font-size="35.98">4</tspan><tspan x="721.2 735.6 749.6 787.2 824.7 862.7 876.9 905.8 935.0 952.0 981.0 1009.9 1038.8" y="118.5" font-size="54.08"> ICDD 43-0646</tspan></text>
<text transform="translate(417,0) scale(1,0.9)" x="0" y="721.6" font-size="75.4" fill="#f00" stroke="#f00" stroke-width="1.3" stroke-linejoin="miter" text-anchor="middle">*</text>
<text stroke="#000" stroke-width="0.5"><tspan x="691.9" y="1512.9" font-size="69.68">2</tspan><tspan x="731.4" y="1513.2" font-family="'Liberation Serif', 'DejaVu Serif', serif" font-size="70.7" stroke="none">Θ</tspan><tspan x="781.0 798.7" y="1511.8" font-size="63.97"> [</tspan><tspan x="816.8 854.0 891.3 928.9" y="1512.9" font-size="69.68">deg.</tspan><tspan x="950.9" y="1511.8" font-size="63.97">]</tspan></text>
</g>
</svg>
</body></html>
